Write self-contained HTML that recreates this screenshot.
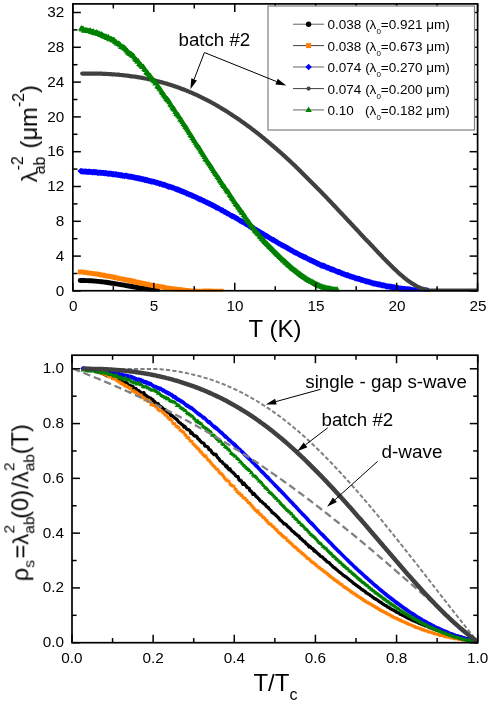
<!DOCTYPE html>
<html><head><meta charset="utf-8"><title>chart</title>
<style>html,body{margin:0;padding:0;background:#fff;}body{width:491px;height:705px;position:relative;overflow:hidden;font-family:"Liberation Sans",sans-serif;}</style>
</head><body>
<svg width="491" height="705" viewBox="0 0 491 705" style="position:absolute;left:0;top:0">
<defs><clipPath id="c1"><rect x="72.85" y="3.9" width="404.75" height="287.6"/></clipPath><clipPath id="c2"><rect x="72" y="355.2" width="405.8" height="288.2"/></clipPath></defs>
<g clip-path="url(#c1)" fill="none" stroke-linejoin="round" stroke-linecap="round">
<path d="M80.2 280.5 L81.7 280.5 L83.2 280.5 L84.8 280.5 L86.3 280.6 L87.8 280.6 L89.3 280.7 L90.8 280.8 L92.4 280.9 L93.9 281.0 L95.4 281.1 L96.9 281.3 L98.4 281.4 L100.0 281.6 L101.5 281.7 L103.0 281.9 L104.5 282.1 L106.0 282.3 L107.6 282.5 L109.1 282.7 L110.6 283.0 L112.1 283.2 L113.6 283.4 L115.2 283.7 L116.7 283.9 L118.2 284.2 L119.7 284.4 L121.2 284.7 L122.7 284.9 L124.3 285.2 L125.8 285.5 L127.3 285.7 L128.8 286.0 L130.3 286.3 L131.9 286.5 L133.4 286.8 L134.9 287.0 L136.4 287.3 L137.9 287.6 L139.5 287.8 L141.0 288.1 L142.5 288.3 L144.0 288.5 L145.5 288.8 L147.1 289.0 L148.6 289.2 L150.1 289.4 L151.6 289.6 L153.1 289.8 L154.7 290.0 L156.2 290.1 L157.7 290.3" stroke="#000000" stroke-width="4.9"/>
<path d="M77.9 269.6h4.6v4.6h-4.6zM78.9 269.8h4.6v4.6h-4.6zM79.9 269.7h4.6v4.6h-4.6zM80.9 270h4.6v4.6h-4.6zM81.9 270h4.6v4.6h-4.6zM82.9 270.1h4.6v4.6h-4.6zM83.9 270.5h4.6v4.6h-4.6zM84.9 270.4h4.6v4.6h-4.6zM85.9 270.5h4.6v4.6h-4.6zM86.9 270.8h4.6v4.6h-4.6zM87.9 271h4.6v4.6h-4.6zM88.9 271h4.6v4.6h-4.6zM89.9 271.2h4.6v4.6h-4.6zM90.9 271.2h4.6v4.6h-4.6zM91.9 271.4h4.6v4.6h-4.6zM92.9 271.6h4.6v4.6h-4.6zM93.9 271.6h4.6v4.6h-4.6zM94.9 271.8h4.6v4.6h-4.6zM95.9 271.9h4.6v4.6h-4.6zM96.9 272.2h4.6v4.6h-4.6zM97.9 272.4h4.6v4.6h-4.6zM98.9 272.6h4.6v4.6h-4.6zM99.9 272.8h4.6v4.6h-4.6zM100.9 272.8h4.6v4.6h-4.6zM101.9 273.2h4.6v4.6h-4.6zM102.9 273.4h4.6v4.6h-4.6zM103.9 273.6h4.6v4.6h-4.6zM104.9 273.6h4.6v4.6h-4.6zM105.9 273.9h4.6v4.6h-4.6zM106.9 273.9h4.6v4.6h-4.6zM107.9 274.3h4.6v4.6h-4.6zM108.9 274.2h4.6v4.6h-4.6zM109.9 274.5h4.6v4.6h-4.6zM110.9 275h4.6v4.6h-4.6zM111.9 274.8h4.6v4.6h-4.6zM112.9 275.4h4.6v4.6h-4.6zM113.9 275.6h4.6v4.6h-4.6zM114.9 275.7h4.6v4.6h-4.6zM115.9 276h4.6v4.6h-4.6zM116.9 276.2h4.6v4.6h-4.6zM117.9 276.5h4.6v4.6h-4.6zM118.9 276.5h4.6v4.6h-4.6zM119.9 276.7h4.6v4.6h-4.6zM120.9 276.9h4.6v4.6h-4.6zM121.9 277.1h4.6v4.6h-4.6zM122.9 277.4h4.6v4.6h-4.6zM123.9 277.5h4.6v4.6h-4.6zM124.9 278h4.6v4.6h-4.6zM125.9 277.8h4.6v4.6h-4.6zM126.9 278.1h4.6v4.6h-4.6zM127.9 278.3h4.6v4.6h-4.6zM128.9 278.4h4.6v4.6h-4.6zM129.9 279.1h4.6v4.6h-4.6zM130.9 278.8h4.6v4.6h-4.6zM131.9 279.3h4.6v4.6h-4.6zM132.9 279.5h4.6v4.6h-4.6zM133.9 279.9h4.6v4.6h-4.6zM134.9 279.7h4.6v4.6h-4.6zM135.9 280.3h4.6v4.6h-4.6zM136.9 280.3h4.6v4.6h-4.6zM137.9 280.6h4.6v4.6h-4.6zM138.9 280.7h4.6v4.6h-4.6zM139.9 281.1h4.6v4.6h-4.6zM140.9 281.1h4.6v4.6h-4.6zM141.9 281.4h4.6v4.6h-4.6zM142.9 281.7h4.6v4.6h-4.6zM143.9 282h4.6v4.6h-4.6zM144.9 281.7h4.6v4.6h-4.6zM145.9 282.4h4.6v4.6h-4.6zM146.9 282.5h4.6v4.6h-4.6zM147.9 282.6h4.6v4.6h-4.6zM149 282.9h4.6v4.6h-4.6zM150 283h4.6v4.6h-4.6zM151 283.4h4.6v4.6h-4.6zM152 283.4h4.6v4.6h-4.6zM153 283.6h4.6v4.6h-4.6zM154 283.7h4.6v4.6h-4.6zM155 283.9h4.6v4.6h-4.6zM156 284.1h4.6v4.6h-4.6zM157 284.2h4.6v4.6h-4.6zM158 284.7h4.6v4.6h-4.6zM159 284.4h4.6v4.6h-4.6zM160 284.4h4.6v4.6h-4.6zM161 285h4.6v4.6h-4.6zM162 285.2h4.6v4.6h-4.6zM163 285.4h4.6v4.6h-4.6zM164 285.5h4.6v4.6h-4.6zM165 285.7h4.6v4.6h-4.6zM166 285.9h4.6v4.6h-4.6zM167 286.1h4.6v4.6h-4.6zM168 286.1h4.6v4.6h-4.6zM169 286.2h4.6v4.6h-4.6zM170 286.7h4.6v4.6h-4.6zM171 286.6h4.6v4.6h-4.6zM172 286.6h4.6v4.6h-4.6zM173 287.1h4.6v4.6h-4.6zM174 287.1h4.6v4.6h-4.6zM175 287h4.6v4.6h-4.6zM176 287.1h4.6v4.6h-4.6zM177 287.4h4.6v4.6h-4.6zM178 287.3h4.6v4.6h-4.6zM179 287.4h4.6v4.6h-4.6zM180 287.5h4.6v4.6h-4.6zM181 287.7h4.6v4.6h-4.6zM182 288h4.6v4.6h-4.6zM183 287.9h4.6v4.6h-4.6zM184 287.9h4.6v4.6h-4.6zM185 288.2h4.6v4.6h-4.6zM186 288.2h4.6v4.6h-4.6zM187 288.4h4.6v4.6h-4.6zM188 288.5h4.6v4.6h-4.6zM189 288.4h4.6v4.6h-4.6zM190 288.5h4.6v4.6h-4.6zM191 288.5h4.6v4.6h-4.6zM192 288.4h4.6v4.6h-4.6zM193 288.7h4.6v4.6h-4.6zM194 288.8h4.6v4.6h-4.6zM195 288.7h4.6v4.6h-4.6zM196 288.7h4.6v4.6h-4.6zM197 288.7h4.6v4.6h-4.6zM198 288.7h4.6v4.6h-4.6zM199 288.7h4.6v4.6h-4.6zM200 288.7h4.6v4.6h-4.6zM201 288.7h4.6v4.6h-4.6zM202 288.7h4.6v4.6h-4.6zM203 288.6h4.6v4.6h-4.6zM204 288.8h4.6v4.6h-4.6zM205 288.8h4.6v4.6h-4.6zM206 288.6h4.6v4.6h-4.6zM207 288.5h4.6v4.6h-4.6zM208 288.8h4.6v4.6h-4.6zM209 288.9h4.6v4.6h-4.6zM210 288.7h4.6v4.6h-4.6zM211 288.7h4.6v4.6h-4.6zM212 288.7h4.6v4.6h-4.6zM213 288.9h4.6v4.6h-4.6zM214 288.7h4.6v4.6h-4.6zM215 288.9h4.6v4.6h-4.6zM216 288.7h4.6v4.6h-4.6zM217 288.9h4.6v4.6h-4.6zM218 288.8h4.6v4.6h-4.6zM219 288.8h4.6v4.6h-4.6z" fill="#ff8000"/>
<path d="M80.6 167.9l3.2 3.2l-3.2 3.2l-3.2 -3.2zM81.6 168.1l3.2 3.2l-3.2 3.2l-3.2 -3.2zM82.6 168.2l3.2 3.2l-3.2 3.2l-3.2 -3.2zM83.6 168.4l3.2 3.2l-3.2 3.2l-3.2 -3.2zM84.6 168.4l3.2 3.2l-3.2 3.2l-3.2 -3.2zM85.6 168.3l3.2 3.2l-3.2 3.2l-3.2 -3.2zM86.6 168.5l3.2 3.2l-3.2 3.2l-3.2 -3.2zM87.6 168.7l3.2 3.2l-3.2 3.2l-3.2 -3.2zM88.6 168.6l3.2 3.2l-3.2 3.2l-3.2 -3.2zM89.6 168.6l3.2 3.2l-3.2 3.2l-3.2 -3.2zM90.6 168.7l3.2 3.2l-3.2 3.2l-3.2 -3.2zM91.6 168.9l3.2 3.2l-3.2 3.2l-3.2 -3.2zM92.6 169l3.2 3.2l-3.2 3.2l-3.2 -3.2zM93.6 168.8l3.2 3.2l-3.2 3.2l-3.2 -3.2zM94.6 169.1l3.2 3.2l-3.2 3.2l-3.2 -3.2zM95.6 169.1l3.2 3.2l-3.2 3.2l-3.2 -3.2zM96.6 169.1l3.2 3.2l-3.2 3.2l-3.2 -3.2zM97.6 169.5l3.2 3.2l-3.2 3.2l-3.2 -3.2zM98.6 169.5l3.2 3.2l-3.2 3.2l-3.2 -3.2zM99.6 169.4l3.2 3.2l-3.2 3.2l-3.2 -3.2zM100.6 169.6l3.2 3.2l-3.2 3.2l-3.2 -3.2zM101.6 169.7l3.2 3.2l-3.2 3.2l-3.2 -3.2zM102.6 169.7l3.2 3.2l-3.2 3.2l-3.2 -3.2zM103.6 169.8l3.2 3.2l-3.2 3.2l-3.2 -3.2zM104.6 170.1l3.2 3.2l-3.2 3.2l-3.2 -3.2zM105.6 169.8l3.2 3.2l-3.2 3.2l-3.2 -3.2zM106.6 170.2l3.2 3.2l-3.2 3.2l-3.2 -3.2zM107.6 170.4l3.2 3.2l-3.2 3.2l-3.2 -3.2zM108.6 170.5l3.2 3.2l-3.2 3.2l-3.2 -3.2zM109.6 170.3l3.2 3.2l-3.2 3.2l-3.2 -3.2zM110.6 170.7l3.2 3.2l-3.2 3.2l-3.2 -3.2zM111.6 170.6l3.2 3.2l-3.2 3.2l-3.2 -3.2zM112.6 171l3.2 3.2l-3.2 3.2l-3.2 -3.2zM113.6 171.1l3.2 3.2l-3.2 3.2l-3.2 -3.2zM114.6 171.2l3.2 3.2l-3.2 3.2l-3.2 -3.2zM115.6 171.1l3.2 3.2l-3.2 3.2l-3.2 -3.2zM116.6 171.3l3.2 3.2l-3.2 3.2l-3.2 -3.2zM117.6 171.7l3.2 3.2l-3.2 3.2l-3.2 -3.2zM118.6 171.5l3.2 3.2l-3.2 3.2l-3.2 -3.2zM119.6 171.9l3.2 3.2l-3.2 3.2l-3.2 -3.2zM120.6 172l3.2 3.2l-3.2 3.2l-3.2 -3.2zM121.6 172.1l3.2 3.2l-3.2 3.2l-3.2 -3.2zM122.6 172.6l3.2 3.2l-3.2 3.2l-3.2 -3.2zM123.6 172.4l3.2 3.2l-3.2 3.2l-3.2 -3.2zM124.7 172.9l3.2 3.2l-3.2 3.2l-3.2 -3.2zM125.7 172.4l3.2 3.2l-3.2 3.2l-3.2 -3.2zM126.7 172.6l3.2 3.2l-3.2 3.2l-3.2 -3.2zM127.7 173.2l3.2 3.2l-3.2 3.2l-3.2 -3.2zM128.7 173.3l3.2 3.2l-3.2 3.2l-3.2 -3.2zM129.7 173.4l3.2 3.2l-3.2 3.2l-3.2 -3.2zM130.7 173.6l3.2 3.2l-3.2 3.2l-3.2 -3.2zM131.7 173.5l3.2 3.2l-3.2 3.2l-3.2 -3.2zM132.7 173.9l3.2 3.2l-3.2 3.2l-3.2 -3.2zM133.7 174l3.2 3.2l-3.2 3.2l-3.2 -3.2zM134.7 174.3l3.2 3.2l-3.2 3.2l-3.2 -3.2zM135.7 174.7l3.2 3.2l-3.2 3.2l-3.2 -3.2zM136.7 174.7l3.2 3.2l-3.2 3.2l-3.2 -3.2zM137.7 175l3.2 3.2l-3.2 3.2l-3.2 -3.2zM138.7 175l3.2 3.2l-3.2 3.2l-3.2 -3.2zM139.7 175.3l3.2 3.2l-3.2 3.2l-3.2 -3.2zM140.7 175.6l3.2 3.2l-3.2 3.2l-3.2 -3.2zM141.7 175.8l3.2 3.2l-3.2 3.2l-3.2 -3.2zM142.7 176.2l3.2 3.2l-3.2 3.2l-3.2 -3.2zM143.7 176.1l3.2 3.2l-3.2 3.2l-3.2 -3.2zM144.7 176.8l3.2 3.2l-3.2 3.2l-3.2 -3.2zM145.7 176.6l3.2 3.2l-3.2 3.2l-3.2 -3.2zM146.7 177.1l3.2 3.2l-3.2 3.2l-3.2 -3.2zM147.7 177.1l3.2 3.2l-3.2 3.2l-3.2 -3.2zM148.7 177.7l3.2 3.2l-3.2 3.2l-3.2 -3.2zM149.7 177.7l3.2 3.2l-3.2 3.2l-3.2 -3.2zM150.7 178l3.2 3.2l-3.2 3.2l-3.2 -3.2zM151.7 178.3l3.2 3.2l-3.2 3.2l-3.2 -3.2zM152.7 178.4l3.2 3.2l-3.2 3.2l-3.2 -3.2zM153.7 178.6l3.2 3.2l-3.2 3.2l-3.2 -3.2zM154.7 178.7l3.2 3.2l-3.2 3.2l-3.2 -3.2zM155.7 179.4l3.2 3.2l-3.2 3.2l-3.2 -3.2zM156.7 179.4l3.2 3.2l-3.2 3.2l-3.2 -3.2zM157.7 179.7l3.2 3.2l-3.2 3.2l-3.2 -3.2zM158.7 180.1l3.2 3.2l-3.2 3.2l-3.2 -3.2zM159.7 180.7l3.2 3.2l-3.2 3.2l-3.2 -3.2zM160.7 180.4l3.2 3.2l-3.2 3.2l-3.2 -3.2zM161.7 181l3.2 3.2l-3.2 3.2l-3.2 -3.2zM162.7 181.2l3.2 3.2l-3.2 3.2l-3.2 -3.2zM163.7 181.7l3.2 3.2l-3.2 3.2l-3.2 -3.2zM164.7 181.6l3.2 3.2l-3.2 3.2l-3.2 -3.2zM165.7 182.2l3.2 3.2l-3.2 3.2l-3.2 -3.2zM166.7 182.7l3.2 3.2l-3.2 3.2l-3.2 -3.2zM167.7 183.1l3.2 3.2l-3.2 3.2l-3.2 -3.2zM168.7 183.5l3.2 3.2l-3.2 3.2l-3.2 -3.2zM169.7 183.4l3.2 3.2l-3.2 3.2l-3.2 -3.2zM170.7 183.9l3.2 3.2l-3.2 3.2l-3.2 -3.2zM171.7 184.2l3.2 3.2l-3.2 3.2l-3.2 -3.2zM172.7 184.4l3.2 3.2l-3.2 3.2l-3.2 -3.2zM173.7 184.7l3.2 3.2l-3.2 3.2l-3.2 -3.2zM174.7 185.4l3.2 3.2l-3.2 3.2l-3.2 -3.2zM175.7 185.7l3.2 3.2l-3.2 3.2l-3.2 -3.2zM176.7 186l3.2 3.2l-3.2 3.2l-3.2 -3.2zM177.7 186.6l3.2 3.2l-3.2 3.2l-3.2 -3.2zM178.7 186.6l3.2 3.2l-3.2 3.2l-3.2 -3.2zM179.7 187.3l3.2 3.2l-3.2 3.2l-3.2 -3.2zM180.7 187.6l3.2 3.2l-3.2 3.2l-3.2 -3.2zM181.7 188l3.2 3.2l-3.2 3.2l-3.2 -3.2zM182.7 188.4l3.2 3.2l-3.2 3.2l-3.2 -3.2zM183.7 188.8l3.2 3.2l-3.2 3.2l-3.2 -3.2zM184.7 189.2l3.2 3.2l-3.2 3.2l-3.2 -3.2zM185.7 189.6l3.2 3.2l-3.2 3.2l-3.2 -3.2zM186.7 190.3l3.2 3.2l-3.2 3.2l-3.2 -3.2zM187.7 190.4l3.2 3.2l-3.2 3.2l-3.2 -3.2zM188.7 191l3.2 3.2l-3.2 3.2l-3.2 -3.2zM189.7 191.4l3.2 3.2l-3.2 3.2l-3.2 -3.2zM190.7 191.7l3.2 3.2l-3.2 3.2l-3.2 -3.2zM191.7 192.3l3.2 3.2l-3.2 3.2l-3.2 -3.2zM192.7 192.5l3.2 3.2l-3.2 3.2l-3.2 -3.2zM193.7 193.2l3.2 3.2l-3.2 3.2l-3.2 -3.2zM194.7 193.4l3.2 3.2l-3.2 3.2l-3.2 -3.2zM195.7 193.9l3.2 3.2l-3.2 3.2l-3.2 -3.2zM196.7 194.5l3.2 3.2l-3.2 3.2l-3.2 -3.2zM197.7 195l3.2 3.2l-3.2 3.2l-3.2 -3.2zM198.7 195.5l3.2 3.2l-3.2 3.2l-3.2 -3.2zM199.7 196l3.2 3.2l-3.2 3.2l-3.2 -3.2zM200.7 196.3l3.2 3.2l-3.2 3.2l-3.2 -3.2zM201.7 196.6l3.2 3.2l-3.2 3.2l-3.2 -3.2zM202.7 197.4l3.2 3.2l-3.2 3.2l-3.2 -3.2zM203.7 197.8l3.2 3.2l-3.2 3.2l-3.2 -3.2zM204.7 198.1l3.2 3.2l-3.2 3.2l-3.2 -3.2zM205.7 198.9l3.2 3.2l-3.2 3.2l-3.2 -3.2zM206.7 199.3l3.2 3.2l-3.2 3.2l-3.2 -3.2zM207.7 199.6l3.2 3.2l-3.2 3.2l-3.2 -3.2zM208.7 200.3l3.2 3.2l-3.2 3.2l-3.2 -3.2zM209.7 200.5l3.2 3.2l-3.2 3.2l-3.2 -3.2zM210.7 201.1l3.2 3.2l-3.2 3.2l-3.2 -3.2zM211.8 201.8l3.2 3.2l-3.2 3.2l-3.2 -3.2zM212.8 202.1l3.2 3.2l-3.2 3.2l-3.2 -3.2zM213.8 202.8l3.2 3.2l-3.2 3.2l-3.2 -3.2zM214.8 203.1l3.2 3.2l-3.2 3.2l-3.2 -3.2zM215.8 204l3.2 3.2l-3.2 3.2l-3.2 -3.2zM216.8 204.3l3.2 3.2l-3.2 3.2l-3.2 -3.2zM217.8 204.9l3.2 3.2l-3.2 3.2l-3.2 -3.2zM218.8 205.2l3.2 3.2l-3.2 3.2l-3.2 -3.2zM219.8 205.9l3.2 3.2l-3.2 3.2l-3.2 -3.2zM220.8 206.7l3.2 3.2l-3.2 3.2l-3.2 -3.2zM221.8 207.1l3.2 3.2l-3.2 3.2l-3.2 -3.2zM222.8 207.3l3.2 3.2l-3.2 3.2l-3.2 -3.2zM223.8 208.3l3.2 3.2l-3.2 3.2l-3.2 -3.2zM224.8 208.8l3.2 3.2l-3.2 3.2l-3.2 -3.2zM225.8 209.2l3.2 3.2l-3.2 3.2l-3.2 -3.2zM226.8 210l3.2 3.2l-3.2 3.2l-3.2 -3.2zM227.8 210.2l3.2 3.2l-3.2 3.2l-3.2 -3.2zM228.8 210.9l3.2 3.2l-3.2 3.2l-3.2 -3.2zM229.8 211.6l3.2 3.2l-3.2 3.2l-3.2 -3.2zM230.8 212.2l3.2 3.2l-3.2 3.2l-3.2 -3.2zM231.8 212.8l3.2 3.2l-3.2 3.2l-3.2 -3.2zM232.8 213l3.2 3.2l-3.2 3.2l-3.2 -3.2zM233.8 213.4l3.2 3.2l-3.2 3.2l-3.2 -3.2zM234.8 214.3l3.2 3.2l-3.2 3.2l-3.2 -3.2zM235.8 214.6l3.2 3.2l-3.2 3.2l-3.2 -3.2zM236.8 215.4l3.2 3.2l-3.2 3.2l-3.2 -3.2zM237.8 215.8l3.2 3.2l-3.2 3.2l-3.2 -3.2zM238.8 216.7l3.2 3.2l-3.2 3.2l-3.2 -3.2zM239.8 217.3l3.2 3.2l-3.2 3.2l-3.2 -3.2zM240.8 217.8l3.2 3.2l-3.2 3.2l-3.2 -3.2zM241.8 218.3l3.2 3.2l-3.2 3.2l-3.2 -3.2zM242.8 218.9l3.2 3.2l-3.2 3.2l-3.2 -3.2zM243.8 219.4l3.2 3.2l-3.2 3.2l-3.2 -3.2zM244.8 220.1l3.2 3.2l-3.2 3.2l-3.2 -3.2zM245.8 220.7l3.2 3.2l-3.2 3.2l-3.2 -3.2zM246.8 221.3l3.2 3.2l-3.2 3.2l-3.2 -3.2zM247.8 221.7l3.2 3.2l-3.2 3.2l-3.2 -3.2zM248.8 222.7l3.2 3.2l-3.2 3.2l-3.2 -3.2zM249.8 223l3.2 3.2l-3.2 3.2l-3.2 -3.2zM250.8 223.8l3.2 3.2l-3.2 3.2l-3.2 -3.2zM251.8 224.3l3.2 3.2l-3.2 3.2l-3.2 -3.2zM252.8 224.6l3.2 3.2l-3.2 3.2l-3.2 -3.2zM253.8 225.1l3.2 3.2l-3.2 3.2l-3.2 -3.2zM254.8 226.1l3.2 3.2l-3.2 3.2l-3.2 -3.2zM255.8 226.5l3.2 3.2l-3.2 3.2l-3.2 -3.2zM256.8 227.1l3.2 3.2l-3.2 3.2l-3.2 -3.2zM257.8 227.7l3.2 3.2l-3.2 3.2l-3.2 -3.2zM258.8 228.3l3.2 3.2l-3.2 3.2l-3.2 -3.2zM259.8 228.7l3.2 3.2l-3.2 3.2l-3.2 -3.2zM260.8 229.5l3.2 3.2l-3.2 3.2l-3.2 -3.2zM261.8 230l3.2 3.2l-3.2 3.2l-3.2 -3.2zM262.8 230.7l3.2 3.2l-3.2 3.2l-3.2 -3.2zM263.8 230.9l3.2 3.2l-3.2 3.2l-3.2 -3.2zM264.8 232l3.2 3.2l-3.2 3.2l-3.2 -3.2zM265.8 232.5l3.2 3.2l-3.2 3.2l-3.2 -3.2zM266.8 232.8l3.2 3.2l-3.2 3.2l-3.2 -3.2zM267.8 233.5l3.2 3.2l-3.2 3.2l-3.2 -3.2zM268.8 234.2l3.2 3.2l-3.2 3.2l-3.2 -3.2zM269.8 234.9l3.2 3.2l-3.2 3.2l-3.2 -3.2zM270.8 235.4l3.2 3.2l-3.2 3.2l-3.2 -3.2zM271.8 236.2l3.2 3.2l-3.2 3.2l-3.2 -3.2zM272.8 236.6l3.2 3.2l-3.2 3.2l-3.2 -3.2zM273.8 237l3.2 3.2l-3.2 3.2l-3.2 -3.2zM274.8 237.6l3.2 3.2l-3.2 3.2l-3.2 -3.2zM275.8 238.4l3.2 3.2l-3.2 3.2l-3.2 -3.2zM276.8 238.8l3.2 3.2l-3.2 3.2l-3.2 -3.2zM277.8 239.6l3.2 3.2l-3.2 3.2l-3.2 -3.2zM278.8 240.2l3.2 3.2l-3.2 3.2l-3.2 -3.2zM279.8 240.7l3.2 3.2l-3.2 3.2l-3.2 -3.2zM280.8 241.4l3.2 3.2l-3.2 3.2l-3.2 -3.2zM281.8 241.8l3.2 3.2l-3.2 3.2l-3.2 -3.2zM282.8 242.4l3.2 3.2l-3.2 3.2l-3.2 -3.2zM283.8 242.8l3.2 3.2l-3.2 3.2l-3.2 -3.2zM284.8 243.4l3.2 3.2l-3.2 3.2l-3.2 -3.2zM285.8 243.8l3.2 3.2l-3.2 3.2l-3.2 -3.2zM286.8 244.5l3.2 3.2l-3.2 3.2l-3.2 -3.2zM287.8 245l3.2 3.2l-3.2 3.2l-3.2 -3.2zM288.8 245.5l3.2 3.2l-3.2 3.2l-3.2 -3.2zM289.8 246.3l3.2 3.2l-3.2 3.2l-3.2 -3.2zM290.8 246.9l3.2 3.2l-3.2 3.2l-3.2 -3.2zM291.8 247.3l3.2 3.2l-3.2 3.2l-3.2 -3.2zM292.8 248.1l3.2 3.2l-3.2 3.2l-3.2 -3.2zM293.8 248.6l3.2 3.2l-3.2 3.2l-3.2 -3.2zM294.8 249.2l3.2 3.2l-3.2 3.2l-3.2 -3.2zM295.8 249.5l3.2 3.2l-3.2 3.2l-3.2 -3.2zM296.8 249.9l3.2 3.2l-3.2 3.2l-3.2 -3.2zM297.9 250.7l3.2 3.2l-3.2 3.2l-3.2 -3.2zM298.9 251.2l3.2 3.2l-3.2 3.2l-3.2 -3.2zM299.9 251.8l3.2 3.2l-3.2 3.2l-3.2 -3.2zM300.9 252.2l3.2 3.2l-3.2 3.2l-3.2 -3.2zM301.9 252.9l3.2 3.2l-3.2 3.2l-3.2 -3.2zM302.9 253.1l3.2 3.2l-3.2 3.2l-3.2 -3.2zM303.9 253.8l3.2 3.2l-3.2 3.2l-3.2 -3.2zM304.9 254.1l3.2 3.2l-3.2 3.2l-3.2 -3.2zM305.9 254.3l3.2 3.2l-3.2 3.2l-3.2 -3.2zM306.9 255.1l3.2 3.2l-3.2 3.2l-3.2 -3.2zM307.9 255.9l3.2 3.2l-3.2 3.2l-3.2 -3.2zM308.9 255.9l3.2 3.2l-3.2 3.2l-3.2 -3.2zM309.9 256.8l3.2 3.2l-3.2 3.2l-3.2 -3.2zM310.9 257l3.2 3.2l-3.2 3.2l-3.2 -3.2zM311.9 257.5l3.2 3.2l-3.2 3.2l-3.2 -3.2zM312.9 258.1l3.2 3.2l-3.2 3.2l-3.2 -3.2zM313.9 258.6l3.2 3.2l-3.2 3.2l-3.2 -3.2zM314.9 258.8l3.2 3.2l-3.2 3.2l-3.2 -3.2zM315.9 259.5l3.2 3.2l-3.2 3.2l-3.2 -3.2zM316.9 260l3.2 3.2l-3.2 3.2l-3.2 -3.2zM317.9 260.5l3.2 3.2l-3.2 3.2l-3.2 -3.2zM318.9 260.7l3.2 3.2l-3.2 3.2l-3.2 -3.2zM319.9 261.5l3.2 3.2l-3.2 3.2l-3.2 -3.2zM320.9 262l3.2 3.2l-3.2 3.2l-3.2 -3.2zM321.9 262.5l3.2 3.2l-3.2 3.2l-3.2 -3.2zM322.9 262.3l3.2 3.2l-3.2 3.2l-3.2 -3.2zM323.9 263l3.2 3.2l-3.2 3.2l-3.2 -3.2zM324.9 263.1l3.2 3.2l-3.2 3.2l-3.2 -3.2zM325.9 263.9l3.2 3.2l-3.2 3.2l-3.2 -3.2zM326.9 264.3l3.2 3.2l-3.2 3.2l-3.2 -3.2zM327.9 264.5l3.2 3.2l-3.2 3.2l-3.2 -3.2zM328.9 264.8l3.2 3.2l-3.2 3.2l-3.2 -3.2zM329.9 265.5l3.2 3.2l-3.2 3.2l-3.2 -3.2zM330.9 266l3.2 3.2l-3.2 3.2l-3.2 -3.2zM331.9 266.1l3.2 3.2l-3.2 3.2l-3.2 -3.2zM332.9 266.6l3.2 3.2l-3.2 3.2l-3.2 -3.2zM333.9 266.7l3.2 3.2l-3.2 3.2l-3.2 -3.2zM334.9 267.3l3.2 3.2l-3.2 3.2l-3.2 -3.2zM335.9 267.9l3.2 3.2l-3.2 3.2l-3.2 -3.2zM336.9 268.2l3.2 3.2l-3.2 3.2l-3.2 -3.2zM337.9 268.8l3.2 3.2l-3.2 3.2l-3.2 -3.2zM338.9 268.8l3.2 3.2l-3.2 3.2l-3.2 -3.2zM339.9 269l3.2 3.2l-3.2 3.2l-3.2 -3.2zM340.9 269.8l3.2 3.2l-3.2 3.2l-3.2 -3.2zM341.9 270l3.2 3.2l-3.2 3.2l-3.2 -3.2zM342.9 270.5l3.2 3.2l-3.2 3.2l-3.2 -3.2zM343.9 270.9l3.2 3.2l-3.2 3.2l-3.2 -3.2zM344.9 271.3l3.2 3.2l-3.2 3.2l-3.2 -3.2zM345.9 271.7l3.2 3.2l-3.2 3.2l-3.2 -3.2zM346.9 272.1l3.2 3.2l-3.2 3.2l-3.2 -3.2zM347.9 272l3.2 3.2l-3.2 3.2l-3.2 -3.2zM348.9 272.6l3.2 3.2l-3.2 3.2l-3.2 -3.2zM349.9 273.2l3.2 3.2l-3.2 3.2l-3.2 -3.2zM350.9 273.2l3.2 3.2l-3.2 3.2l-3.2 -3.2zM351.9 273.7l3.2 3.2l-3.2 3.2l-3.2 -3.2zM352.9 273.9l3.2 3.2l-3.2 3.2l-3.2 -3.2zM353.9 274.2l3.2 3.2l-3.2 3.2l-3.2 -3.2zM354.9 274.8l3.2 3.2l-3.2 3.2l-3.2 -3.2zM355.9 275l3.2 3.2l-3.2 3.2l-3.2 -3.2zM356.9 275.2l3.2 3.2l-3.2 3.2l-3.2 -3.2zM357.9 275.7l3.2 3.2l-3.2 3.2l-3.2 -3.2zM358.9 275.6l3.2 3.2l-3.2 3.2l-3.2 -3.2zM359.9 276l3.2 3.2l-3.2 3.2l-3.2 -3.2zM360.9 276.6l3.2 3.2l-3.2 3.2l-3.2 -3.2zM361.9 276.8l3.2 3.2l-3.2 3.2l-3.2 -3.2zM362.9 276.9l3.2 3.2l-3.2 3.2l-3.2 -3.2zM363.9 277.4l3.2 3.2l-3.2 3.2l-3.2 -3.2zM364.9 277.7l3.2 3.2l-3.2 3.2l-3.2 -3.2zM365.9 278.1l3.2 3.2l-3.2 3.2l-3.2 -3.2zM366.9 278.3l3.2 3.2l-3.2 3.2l-3.2 -3.2zM367.9 278.4l3.2 3.2l-3.2 3.2l-3.2 -3.2zM368.9 278.7l3.2 3.2l-3.2 3.2l-3.2 -3.2zM369.9 279l3.2 3.2l-3.2 3.2l-3.2 -3.2zM370.9 279.2l3.2 3.2l-3.2 3.2l-3.2 -3.2zM371.9 279.8l3.2 3.2l-3.2 3.2l-3.2 -3.2zM372.9 280l3.2 3.2l-3.2 3.2l-3.2 -3.2zM373.9 280.3l3.2 3.2l-3.2 3.2l-3.2 -3.2zM374.9 280.4l3.2 3.2l-3.2 3.2l-3.2 -3.2zM375.9 280.5l3.2 3.2l-3.2 3.2l-3.2 -3.2zM376.9 280.9l3.2 3.2l-3.2 3.2l-3.2 -3.2zM377.9 281l3.2 3.2l-3.2 3.2l-3.2 -3.2zM378.9 281.3l3.2 3.2l-3.2 3.2l-3.2 -3.2zM379.9 281.3l3.2 3.2l-3.2 3.2l-3.2 -3.2zM380.9 281.7l3.2 3.2l-3.2 3.2l-3.2 -3.2zM381.9 282.2l3.2 3.2l-3.2 3.2l-3.2 -3.2zM382.9 282l3.2 3.2l-3.2 3.2l-3.2 -3.2zM383.9 282.2l3.2 3.2l-3.2 3.2l-3.2 -3.2zM385 282.6l3.2 3.2l-3.2 3.2l-3.2 -3.2zM386 283.1l3.2 3.2l-3.2 3.2l-3.2 -3.2zM387 283.2l3.2 3.2l-3.2 3.2l-3.2 -3.2zM388 283.2l3.2 3.2l-3.2 3.2l-3.2 -3.2zM389 283.3l3.2 3.2l-3.2 3.2l-3.2 -3.2zM390 283.6l3.2 3.2l-3.2 3.2l-3.2 -3.2zM391 283.6l3.2 3.2l-3.2 3.2l-3.2 -3.2zM392 284l3.2 3.2l-3.2 3.2l-3.2 -3.2zM393 284.1l3.2 3.2l-3.2 3.2l-3.2 -3.2zM394 284.1l3.2 3.2l-3.2 3.2l-3.2 -3.2zM395 284.4l3.2 3.2l-3.2 3.2l-3.2 -3.2zM396 284.6l3.2 3.2l-3.2 3.2l-3.2 -3.2zM397 284.7l3.2 3.2l-3.2 3.2l-3.2 -3.2zM398 284.8l3.2 3.2l-3.2 3.2l-3.2 -3.2zM399 285.2l3.2 3.2l-3.2 3.2l-3.2 -3.2zM400 285.5l3.2 3.2l-3.2 3.2l-3.2 -3.2zM401 285.3l3.2 3.2l-3.2 3.2l-3.2 -3.2zM402 285.5l3.2 3.2l-3.2 3.2l-3.2 -3.2zM403 285.7l3.2 3.2l-3.2 3.2l-3.2 -3.2zM404 285.8l3.2 3.2l-3.2 3.2l-3.2 -3.2zM405 285.8l3.2 3.2l-3.2 3.2l-3.2 -3.2zM406 286.2l3.2 3.2l-3.2 3.2l-3.2 -3.2zM407 286l3.2 3.2l-3.2 3.2l-3.2 -3.2zM408 286.1l3.2 3.2l-3.2 3.2l-3.2 -3.2zM409 286.2l3.2 3.2l-3.2 3.2l-3.2 -3.2zM410 286.3l3.2 3.2l-3.2 3.2l-3.2 -3.2zM411 286.5l3.2 3.2l-3.2 3.2l-3.2 -3.2zM412 286.7l3.2 3.2l-3.2 3.2l-3.2 -3.2zM413 286.9l3.2 3.2l-3.2 3.2l-3.2 -3.2zM414 286.9l3.2 3.2l-3.2 3.2l-3.2 -3.2zM415 286.9l3.2 3.2l-3.2 3.2l-3.2 -3.2zM416 286.7l3.2 3.2l-3.2 3.2l-3.2 -3.2zM417 287l3.2 3.2l-3.2 3.2l-3.2 -3.2zM418 286.9l3.2 3.2l-3.2 3.2l-3.2 -3.2zM419 287.1l3.2 3.2l-3.2 3.2l-3.2 -3.2zM420 287.3l3.2 3.2l-3.2 3.2l-3.2 -3.2zM421 287.2l3.2 3.2l-3.2 3.2l-3.2 -3.2zM422 287.2l3.2 3.2l-3.2 3.2l-3.2 -3.2zM423 287.2l3.2 3.2l-3.2 3.2l-3.2 -3.2zM424 287.3l3.2 3.2l-3.2 3.2l-3.2 -3.2zM425 287.3l3.2 3.2l-3.2 3.2l-3.2 -3.2zM426 287.2l3.2 3.2l-3.2 3.2l-3.2 -3.2zM427 287.3l3.2 3.2l-3.2 3.2l-3.2 -3.2zM428 287.5l3.2 3.2l-3.2 3.2l-3.2 -3.2z" fill="#0000ff"/>
<path d="M82.2 73.6 L83.7 73.6 L85.2 73.6 L86.7 73.6 L88.2 73.6 L89.7 73.6 L91.2 73.6 L92.7 73.6 L94.2 73.6 L95.7 73.6 L97.2 73.6 L98.7 73.6 L100.2 73.7 L101.7 73.7 L103.2 73.8 L104.8 73.9 L106.3 73.9 L107.8 74.0 L109.3 74.1 L110.8 74.2 L112.3 74.3 L113.8 74.4 L115.3 74.5 L116.8 74.6 L118.3 74.7 L119.8 74.9 L121.3 75.0 L122.8 75.2 L124.3 75.3 L125.8 75.5 L127.3 75.7 L128.8 75.9 L130.3 76.1 L131.8 76.3 L133.3 76.5 L134.8 76.7 L136.3 76.9 L137.8 77.2 L139.3 77.4 L140.8 77.7 L142.3 77.9 L143.8 78.2 L145.3 78.5 L146.8 78.8 L148.4 79.1 L149.9 79.4 L151.4 79.8 L152.9 80.1 L154.4 80.4 L155.9 80.8 L157.4 81.2 L158.9 81.6 L160.4 82.0 L161.9 82.4 L163.4 82.8 L164.9 83.2 L166.4 83.6 L167.9 84.1 L169.4 84.5 L170.9 85.0 L172.4 85.5 L173.9 86.0 L175.4 86.5 L176.9 87.0 L178.4 87.6 L179.9 88.1 L181.4 88.7 L182.9 89.2 L184.4 89.8 L185.9 90.4 L187.4 91.0 L188.9 91.6 L190.4 92.3 L192.0 92.9 L193.5 93.6 L195.0 94.3 L196.5 94.9 L198.0 95.6 L199.5 96.4 L201.0 97.1 L202.5 97.8 L204.0 98.6 L205.5 99.3 L207.0 100.1 L208.5 100.9 L210.0 101.7 L211.5 102.5 L213.0 103.3 L214.5 104.2 L216.0 105.0 L217.5 105.9 L219.0 106.8 L220.5 107.7 L222.0 108.6 L223.5 109.5 L225.0 110.4 L226.5 111.3 L228.0 112.3 L229.5 113.2 L231.0 114.2 L232.5 115.2 L234.0 116.2 L235.6 117.2 L237.1 118.2 L238.6 119.3 L240.1 120.3 L241.6 121.4 L243.1 122.4 L244.6 123.5 L246.1 124.6 L247.6 125.7 L249.1 126.8 L250.6 127.9 L252.1 129.1 L253.6 130.2 L255.1 131.4 L256.6 132.5 L258.1 133.7 L259.6 134.9 L261.1 136.1 L262.6 137.3 L264.1 138.5 L265.6 139.8 L267.1 141.0 L268.6 142.3 L270.1 143.5 L271.6 144.8 L273.1 146.1 L274.6 147.4 L276.1 148.7 L277.6 150.0 L279.2 151.3 L280.7 152.7 L282.2 154.0 L283.7 155.4 L285.2 156.7 L286.7 158.1 L288.2 159.5 L289.7 160.9 L291.2 162.3 L292.7 163.7 L294.2 165.1 L295.7 166.6 L297.2 168.0 L298.7 169.5 L300.2 170.9 L301.7 172.4 L303.2 173.9 L304.7 175.4 L306.2 176.9 L307.7 178.4 L309.2 179.9 L310.7 181.4 L312.2 182.9 L313.7 184.4 L315.2 185.9 L316.7 187.5 L318.2 189.0 L319.7 190.6 L321.2 192.1 L322.8 193.7 L324.3 195.3 L325.8 196.8 L327.3 198.4 L328.8 200.0 L330.3 201.5 L331.8 203.1 L333.3 204.7 L334.8 206.3 L336.3 207.9 L337.8 209.5 L339.3 211.1 L340.8 212.7 L342.3 214.3 L343.8 215.9 L345.3 217.5 L346.8 219.1 L348.3 220.7 L349.8 222.3 L351.3 223.9 L352.8 225.5 L354.3 227.1 L355.8 228.7 L357.3 230.3 L358.8 231.9 L360.3 233.6 L361.8 235.2 L363.3 236.8 L364.8 238.4 L366.4 240.0 L367.9 241.6 L369.4 243.1 L370.9 244.7 L372.4 246.3 L373.9 247.9 L375.4 249.5 L376.9 251.1 L378.4 252.7 L379.9 254.2 L381.4 255.8 L382.9 257.4 L384.4 258.9 L385.9 260.5 L387.4 262.0 L388.9 263.5 L390.4 265.0 L391.9 266.5 L393.4 268.0 L394.9 269.4 L396.4 270.8 L397.9 272.2 L399.4 273.6 L400.9 274.9 L402.4 276.2 L403.9 277.5 L405.4 278.7 L406.9 279.8 L408.4 281.0 L410.0 282.0 L411.5 283.1 L413.0 284.0 L414.5 284.9 L416.0 285.8 L417.5 286.6 L419.0 287.3 L420.5 288.0 L422.0 288.6 L423.5 289.1 L425.0 289.6 L426.5 290.0 L428.0 290.3 L429.5 290.5 L431.0 290.6 L477.6 290.5" stroke="#404040" stroke-width="4.2"/>
<path d="M81.3 25l3.2 5.6h-6.5zM82.3 25.8l3.2 5.6h-6.5zM83.3 25.7l3.2 5.6h-6.5zM84.3 27.1l3.2 5.6h-6.5zM85.3 26.9l3.2 5.6h-6.5zM86.3 27.1l3.2 5.6h-6.5zM87.3 27.3l3.2 5.6h-6.5zM88.3 27.5l3.2 5.6h-6.5zM89.3 27.7l3.2 5.6h-6.5zM90.3 27.2l3.2 5.6h-6.5zM91.3 28.3l3.2 5.6h-6.5zM92.3 28.7l3.2 5.6h-6.5zM93.3 28.1l3.2 5.6h-6.5zM94.3 29.4l3.2 5.6h-6.5zM95.3 29.7l3.2 5.6h-6.5zM96.4 29l3.2 5.6h-6.5zM97.4 29.8l3.2 5.6h-6.5zM98.4 30.3l3.2 5.6h-6.5zM99.4 30.5l3.2 5.6h-6.5zM100.4 31.3l3.2 5.6h-6.5zM101.4 31l3.2 5.6h-6.5zM102.4 31.8l3.2 5.6h-6.5zM103.4 32.4l3.2 5.6h-6.5zM104.4 33.1l3.2 5.6h-6.5zM105.4 33.2l3.2 5.6h-6.5zM106.4 33.6l3.2 5.6h-6.5zM107.4 34.5l3.2 5.6h-6.5zM108.4 33.8l3.2 5.6h-6.5zM109.4 35.6l3.2 5.6h-6.5zM110.4 35.6l3.2 5.6h-6.5zM111.4 35.7l3.2 5.6h-6.5zM112.4 36.6l3.2 5.6h-6.5zM113.4 36.6l3.2 5.6h-6.5zM114.4 37.1l3.2 5.6h-6.5zM115.4 38.5l3.2 5.6h-6.5zM116.4 38.9l3.2 5.6h-6.5zM117.4 40.2l3.2 5.6h-6.5zM118.4 40.2l3.2 5.6h-6.5zM119.4 40.7l3.2 5.6h-6.5zM120.4 41.6l3.2 5.6h-6.5zM121.4 43.5l3.2 5.6h-6.5zM122.4 43.5l3.2 5.6h-6.5zM123.4 44l3.2 5.6h-6.5zM124.5 44.6l3.2 5.6h-6.5zM125.5 45.4l3.2 5.6h-6.5zM126.5 46.7l3.2 5.6h-6.5zM127.5 47.8l3.2 5.6h-6.5zM128.5 49.1l3.2 5.6h-6.5zM129.5 50l3.2 5.6h-6.5zM130.5 50.5l3.2 5.6h-6.5zM131.5 51.1l3.2 5.6h-6.5zM132.5 52l3.2 5.6h-6.5zM133.5 52.4l3.2 5.6h-6.5zM134.5 54l3.2 5.6h-6.5zM135.5 55.7l3.2 5.6h-6.5zM136.5 56.4l3.2 5.6h-6.5zM137.5 57.8l3.2 5.6h-6.5zM138.5 58.1l3.2 5.6h-6.5zM139.5 60.3l3.2 5.6h-6.5zM140.5 61.1l3.2 5.6h-6.5zM141.5 62.2l3.2 5.6h-6.5zM142.5 63.5l3.2 5.6h-6.5zM143.5 63.5l3.2 5.6h-6.5zM144.5 65.5l3.2 5.6h-6.5zM145.5 66.5l3.2 5.6h-6.5zM146.5 68.9l3.2 5.6h-6.5zM147.5 69.3l3.2 5.6h-6.5zM148.5 70.4l3.2 5.6h-6.5zM149.5 72.2l3.2 5.6h-6.5zM150.5 72.7l3.2 5.6h-6.5zM151.5 75l3.2 5.6h-6.5zM152.6 75.4l3.2 5.6h-6.5zM153.6 77l3.2 5.6h-6.5zM154.6 77.9l3.2 5.6h-6.5zM155.6 80l3.2 5.6h-6.5zM156.6 80l3.2 5.6h-6.5zM157.6 82.6l3.2 5.6h-6.5zM158.6 83.3l3.2 5.6h-6.5zM159.6 85l3.2 5.6h-6.5zM160.6 85.9l3.2 5.6h-6.5zM161.6 87.9l3.2 5.6h-6.5zM162.6 89.3l3.2 5.6h-6.5zM163.6 90.8l3.2 5.6h-6.5zM164.6 92.1l3.2 5.6h-6.5zM165.6 93.7l3.2 5.6h-6.5zM166.6 95.3l3.2 5.6h-6.5zM167.6 96.1l3.2 5.6h-6.5zM168.6 97.2l3.2 5.6h-6.5zM169.6 98.6l3.2 5.6h-6.5zM170.6 100.9l3.2 5.6h-6.5zM171.6 101.9l3.2 5.6h-6.5zM172.6 104l3.2 5.6h-6.5zM173.6 105.1l3.2 5.6h-6.5zM174.6 106.1l3.2 5.6h-6.5zM175.6 108.4l3.2 5.6h-6.5zM176.6 110.4l3.2 5.6h-6.5zM177.6 110.9l3.2 5.6h-6.5zM178.6 112.1l3.2 5.6h-6.5zM179.6 113.7l3.2 5.6h-6.5zM180.6 116l3.2 5.6h-6.5zM181.7 116.8l3.2 5.6h-6.5zM182.7 118.4l3.2 5.6h-6.5zM183.7 120.5l3.2 5.6h-6.5zM184.7 121.7l3.2 5.6h-6.5zM185.7 123.3l3.2 5.6h-6.5zM186.7 124.6l3.2 5.6h-6.5zM187.7 126.1l3.2 5.6h-6.5zM188.7 128l3.2 5.6h-6.5zM189.7 129.5l3.2 5.6h-6.5zM190.7 131.3l3.2 5.6h-6.5zM191.7 132.4l3.2 5.6h-6.5zM192.7 134.3l3.2 5.6h-6.5zM193.7 136l3.2 5.6h-6.5zM194.7 137.4l3.2 5.6h-6.5zM195.7 139.2l3.2 5.6h-6.5zM196.7 141l3.2 5.6h-6.5zM197.7 142.2l3.2 5.6h-6.5zM198.7 143.7l3.2 5.6h-6.5zM199.7 144.8l3.2 5.6h-6.5zM200.7 146.9l3.2 5.6h-6.5zM201.7 148.4l3.2 5.6h-6.5zM202.7 149.9l3.2 5.6h-6.5zM203.7 151.4l3.2 5.6h-6.5zM204.7 153.4l3.2 5.6h-6.5zM205.7 155.6l3.2 5.6h-6.5zM206.7 156.5l3.2 5.6h-6.5zM207.7 158l3.2 5.6h-6.5zM208.7 159.7l3.2 5.6h-6.5zM209.8 160.9l3.2 5.6h-6.5zM210.8 162.7l3.2 5.6h-6.5zM211.8 164.1l3.2 5.6h-6.5zM212.8 165.6l3.2 5.6h-6.5zM213.8 167.4l3.2 5.6h-6.5zM214.8 169l3.2 5.6h-6.5zM215.8 170.4l3.2 5.6h-6.5zM216.8 171.7l3.2 5.6h-6.5zM217.8 173.5l3.2 5.6h-6.5zM218.8 174.6l3.2 5.6h-6.5zM219.8 176.6l3.2 5.6h-6.5zM220.8 177.8l3.2 5.6h-6.5zM221.8 179.4l3.2 5.6h-6.5zM222.8 181.1l3.2 5.6h-6.5zM223.8 182.5l3.2 5.6h-6.5zM224.8 183.4l3.2 5.6h-6.5zM225.8 185.2l3.2 5.6h-6.5zM226.8 186.8l3.2 5.6h-6.5zM227.8 187.9l3.2 5.6h-6.5zM228.8 188.9l3.2 5.6h-6.5zM229.8 191.1l3.2 5.6h-6.5zM230.8 192.5l3.2 5.6h-6.5zM231.8 194.1l3.2 5.6h-6.5zM232.8 195.5l3.2 5.6h-6.5zM233.8 197l3.2 5.6h-6.5zM234.8 198.5l3.2 5.6h-6.5zM235.8 200.3l3.2 5.6h-6.5zM236.8 201.5l3.2 5.6h-6.5zM237.9 202.9l3.2 5.6h-6.5zM238.9 204.1l3.2 5.6h-6.5zM239.9 206l3.2 5.6h-6.5zM240.9 207.1l3.2 5.6h-6.5zM241.9 208.8l3.2 5.6h-6.5zM242.9 209.4l3.2 5.6h-6.5zM243.9 211.5l3.2 5.6h-6.5zM244.9 212.8l3.2 5.6h-6.5zM245.9 214.1l3.2 5.6h-6.5zM246.9 216.1l3.2 5.6h-6.5zM247.9 217.2l3.2 5.6h-6.5zM248.9 218.4l3.2 5.6h-6.5zM249.9 219.7l3.2 5.6h-6.5zM250.9 221.7l3.2 5.6h-6.5zM251.9 222.7l3.2 5.6h-6.5zM252.9 224l3.2 5.6h-6.5zM253.9 224.9l3.2 5.6h-6.5zM254.9 226.8l3.2 5.6h-6.5zM255.9 227.9l3.2 5.6h-6.5zM256.9 228.9l3.2 5.6h-6.5zM257.9 230.2l3.2 5.6h-6.5zM258.9 231l3.2 5.6h-6.5zM259.9 232.8l3.2 5.6h-6.5zM260.9 233.7l3.2 5.6h-6.5zM261.9 235.1l3.2 5.6h-6.5zM262.9 236l3.2 5.6h-6.5zM263.9 237.1l3.2 5.6h-6.5zM264.9 238.3l3.2 5.6h-6.5zM265.9 239.4l3.2 5.6h-6.5zM267 240.3l3.2 5.6h-6.5zM268 241.5l3.2 5.6h-6.5zM269 242.6l3.2 5.6h-6.5zM270 243.6l3.2 5.6h-6.5zM271 244.5l3.2 5.6h-6.5zM272 245.6l3.2 5.6h-6.5zM273 246.5l3.2 5.6h-6.5zM274 247.6l3.2 5.6h-6.5zM275 248.7l3.2 5.6h-6.5zM276 249.6l3.2 5.6h-6.5zM277 250.6l3.2 5.6h-6.5zM278 251.4l3.2 5.6h-6.5zM279 252.6l3.2 5.6h-6.5zM280 253.5l3.2 5.6h-6.5zM281 254.5l3.2 5.6h-6.5zM282 255.5l3.2 5.6h-6.5zM283 256.6l3.2 5.6h-6.5zM284 257.2l3.2 5.6h-6.5zM285 258.1l3.2 5.6h-6.5zM286 259.3l3.2 5.6h-6.5zM287 260l3.2 5.6h-6.5zM288 261.1l3.2 5.6h-6.5zM289 261.8l3.2 5.6h-6.5zM290 262.7l3.2 5.6h-6.5zM291 263.7l3.2 5.6h-6.5zM292 264.6l3.2 5.6h-6.5zM293 265.4l3.2 5.6h-6.5zM294 266.2l3.2 5.6h-6.5zM295.1 266.9l3.2 5.6h-6.5zM296.1 267.7l3.2 5.6h-6.5zM297.1 268.5l3.2 5.6h-6.5zM298.1 269.5l3.2 5.6h-6.5zM299.1 270.2l3.2 5.6h-6.5zM300.1 270.8l3.2 5.6h-6.5zM301.1 271.6l3.2 5.6h-6.5zM302.1 272.4l3.2 5.6h-6.5zM303.1 273.1l3.2 5.6h-6.5zM304.1 273.7l3.2 5.6h-6.5zM305.1 274.4l3.2 5.6h-6.5zM306.1 275.1l3.2 5.6h-6.5zM307.1 276l3.2 5.6h-6.5zM308.1 276.4l3.2 5.6h-6.5zM309.1 277.1l3.2 5.6h-6.5zM310.1 277.4l3.2 5.6h-6.5zM311.1 278.2l3.2 5.6h-6.5zM312.1 278.5l3.2 5.6h-6.5zM313.1 279.1l3.2 5.6h-6.5zM314.1 279.7l3.2 5.6h-6.5zM315.1 280.3l3.2 5.6h-6.5zM316.1 280.8l3.2 5.6h-6.5zM317.1 281.3l3.2 5.6h-6.5zM318.1 281.7l3.2 5.6h-6.5zM319.1 282.1l3.2 5.6h-6.5zM320.1 282.9l3.2 5.6h-6.5zM321.1 283l3.2 5.6h-6.5zM322.1 283.4l3.2 5.6h-6.5zM323.2 283.9l3.2 5.6h-6.5zM324.2 284.1l3.2 5.6h-6.5zM325.2 284.4l3.2 5.6h-6.5zM326.2 284.7l3.2 5.6h-6.5zM327.2 285.1l3.2 5.6h-6.5zM328.2 285l3.2 5.6h-6.5zM329.2 285.3l3.2 5.6h-6.5zM330.2 285.6l3.2 5.6h-6.5zM331.2 285.6l3.2 5.6h-6.5zM332.2 285.9l3.2 5.6h-6.5zM333.2 286.2l3.2 5.6h-6.5zM334.2 286.2l3.2 5.6h-6.5zM335.2 286.3l3.2 5.6h-6.5zM336.2 286.4l3.2 5.6h-6.5zM337.2 286.2l3.2 5.6h-6.5z" fill="#008000"/>
</g>
<g stroke="#000" stroke-width="1.5"><rect x="72.85" y="3.9" width="404.75" height="286.85" fill="none" stroke="#000" stroke-width="1.7"/><line x1="72.85" x2="80.85" y1="290.90" y2="290.90"/><line x1="477.6" x2="469.6" y1="290.90" y2="290.90"/><line x1="72.85" x2="77.45" y1="273.50" y2="273.50"/><line x1="477.6" x2="473" y1="273.50" y2="273.50"/><line x1="72.85" x2="80.85" y1="256.10" y2="256.10"/><line x1="477.6" x2="469.6" y1="256.10" y2="256.10"/><line x1="72.85" x2="77.45" y1="238.70" y2="238.70"/><line x1="477.6" x2="473" y1="238.70" y2="238.70"/><line x1="72.85" x2="80.85" y1="221.30" y2="221.30"/><line x1="477.6" x2="469.6" y1="221.30" y2="221.30"/><line x1="72.85" x2="77.45" y1="203.90" y2="203.90"/><line x1="477.6" x2="473" y1="203.90" y2="203.90"/><line x1="72.85" x2="80.85" y1="186.50" y2="186.50"/><line x1="477.6" x2="469.6" y1="186.50" y2="186.50"/><line x1="72.85" x2="77.45" y1="169.10" y2="169.10"/><line x1="477.6" x2="473" y1="169.10" y2="169.10"/><line x1="72.85" x2="80.85" y1="151.70" y2="151.70"/><line x1="477.6" x2="469.6" y1="151.70" y2="151.70"/><line x1="72.85" x2="77.45" y1="134.30" y2="134.30"/><line x1="477.6" x2="473" y1="134.30" y2="134.30"/><line x1="72.85" x2="80.85" y1="116.90" y2="116.90"/><line x1="477.6" x2="469.6" y1="116.90" y2="116.90"/><line x1="72.85" x2="77.45" y1="99.50" y2="99.50"/><line x1="477.6" x2="473" y1="99.50" y2="99.50"/><line x1="72.85" x2="80.85" y1="82.10" y2="82.10"/><line x1="477.6" x2="469.6" y1="82.10" y2="82.10"/><line x1="72.85" x2="77.45" y1="64.70" y2="64.70"/><line x1="477.6" x2="473" y1="64.70" y2="64.70"/><line x1="72.85" x2="80.85" y1="47.30" y2="47.30"/><line x1="477.6" x2="469.6" y1="47.30" y2="47.30"/><line x1="72.85" x2="77.45" y1="29.90" y2="29.90"/><line x1="477.6" x2="473" y1="29.90" y2="29.90"/><line x1="72.85" x2="80.85" y1="12.50" y2="12.50"/><line x1="477.6" x2="469.6" y1="12.50" y2="12.50"/><line y1="290.75" y2="282.75" x1="72.85" x2="72.85"/><line y1="3.9" y2="11.9" x1="72.85" x2="72.85"/><line y1="290.75" y2="286.15" x1="113.32" x2="113.32"/><line y1="3.9" y2="8.5" x1="113.32" x2="113.32"/><line y1="290.75" y2="282.75" x1="153.80" x2="153.80"/><line y1="3.9" y2="11.9" x1="153.80" x2="153.80"/><line y1="290.75" y2="286.15" x1="194.28" x2="194.28"/><line y1="3.9" y2="8.5" x1="194.28" x2="194.28"/><line y1="290.75" y2="282.75" x1="234.75" x2="234.75"/><line y1="3.9" y2="11.9" x1="234.75" x2="234.75"/><line y1="290.75" y2="286.15" x1="275.23" x2="275.23"/><line y1="3.9" y2="8.5" x1="275.23" x2="275.23"/><line y1="290.75" y2="282.75" x1="315.70" x2="315.70"/><line y1="3.9" y2="11.9" x1="315.70" x2="315.70"/><line y1="290.75" y2="286.15" x1="356.18" x2="356.18"/><line y1="3.9" y2="8.5" x1="356.18" x2="356.18"/><line y1="290.75" y2="282.75" x1="396.65" x2="396.65"/><line y1="3.9" y2="11.9" x1="396.65" x2="396.65"/><line y1="290.75" y2="286.15" x1="437.12" x2="437.12"/><line y1="3.9" y2="8.5" x1="437.12" x2="437.12"/><line y1="290.75" y2="282.75" x1="477.60" x2="477.60"/><line y1="3.9" y2="11.9" x1="477.60" x2="477.60"/></g>
<rect x="268" y="6" width="206.5" height="124" fill="#fff" stroke="#808080" stroke-width="1.2"/>
<line x1="293" x2="324" y1="24.3" y2="24.3" stroke="#909090" stroke-width="1.4"/>
<line x1="293" x2="324" y1="45.6" y2="45.6" stroke="#404040" stroke-width="1"/>
<line x1="293" x2="324" y1="67" y2="67" stroke="#909090" stroke-width="1.4"/>
<line x1="293" x2="324" y1="88.6" y2="88.6" stroke="#404040" stroke-width="1"/>
<line x1="293" x2="324" y1="109.9" y2="109.9" stroke="#909090" stroke-width="1.4"/>
<circle cx="308.6" cy="24.3" r="2.7" fill="#000"/>
<rect x="306.1" y="43.1" width="5" height="5" fill="#ff8000"/>
<path d="M308.6 63.8 l3.2 3.2 l-3.2 3.2 l-3.2 -3.2z" fill="#0000ff"/>
<circle cx="308.6" cy="88.6" r="2.1" fill="#404040"/>
<path d="M308.6 106.5 l3.2 5.6 h-6.4z" fill="#008000"/>
<line x1="204.4" y1="52.5" x2="194.1" y2="79.4" stroke="#000" stroke-width="1"/><path d="M190.4 89.2 L191.3 78.3 L196.9 80.5 z" fill="#000"/>
<line x1="204.4" y1="52.5" x2="276.6" y2="81.6" stroke="#000" stroke-width="1"/><path d="M286.3 85.5 L275.4 84.4 L277.7 78.8 z" fill="#000"/>
<g clip-path="url(#c2)" fill="none" stroke-linejoin="round" stroke-linecap="round">
<path d="M82.8 369.0 L83.8 368.5 L84.8 368.4 L85.8 369.0 L86.8 369.3 L87.8 369.2 L88.8 369.2 L89.8 370.4 L90.8 370.7 L91.8 370.6 L92.8 370.4 L93.8 370.0 L94.8 370.4 L95.8 370.5 L96.8 371.5 L97.8 372.2 L98.8 372.5 L99.8 372.2 L100.8 372.3 L101.8 373.0 L102.8 373.2 L103.8 373.9 L104.8 374.7 L105.8 373.8 L106.8 375.8 L107.8 373.7 L108.8 374.2 L109.8 374.8 L110.8 375.5 L111.8 376.4 L112.8 378.2 L113.8 376.9 L114.8 378.4 L115.8 378.0 L116.8 378.8 L117.8 378.5 L118.8 381.0 L119.8 380.1 L120.8 380.2 L121.8 382.5 L122.9 381.7 L123.9 382.4 L124.9 382.6 L125.9 382.7 L126.9 382.9 L127.9 384.2 L128.9 385.8 L129.9 385.6 L130.9 385.9 L131.9 387.2 L132.9 386.6 L133.9 388.6 L134.9 388.3 L135.9 388.5 L136.9 390.0 L137.9 390.5 L138.9 390.6 L139.9 391.6 L140.9 392.7 L141.9 393.6 L142.9 393.0 L143.9 392.6 L144.9 396.0 L145.9 395.3 L146.9 396.0 L147.9 397.2 L148.9 397.4 L149.9 398.9 L150.9 398.3 L151.9 399.6 L152.9 399.7 L153.9 402.2 L154.9 401.8 L155.9 403.4 L156.9 404.3 L157.9 403.5 L158.9 404.9 L159.9 406.2 L160.9 406.6 L161.9 407.3 L162.9 408.7 L163.9 409.5 L164.9 409.4 L165.9 410.5 L166.9 411.8 L167.9 412.3 L168.9 413.1 L169.9 413.2 L170.9 415.7 L171.9 415.4 L172.9 416.5 L173.9 417.2 L174.9 418.1 L175.9 419.0 L176.9 419.3 L177.9 420.9 L178.9 422.3 L179.9 422.7 L180.9 423.7 L181.9 424.5 L182.9 425.1 L183.9 427.1 L184.9 426.4 L185.9 428.0 L186.9 429.3 L187.9 429.7 L188.9 429.9 L189.9 430.7 L190.9 433.3 L191.9 432.7 L192.9 434.2 L193.9 435.4 L194.9 436.1 L195.9 435.9 L196.9 436.8 L197.9 438.8 L198.9 439.3 L199.9 440.6 L200.9 441.7 L202.0 442.7 L203.0 442.8 L204.0 443.5 L205.0 446.1 L206.0 446.1 L207.0 446.7 L208.0 447.2 L209.0 449.7 L210.0 449.6 L211.0 450.7 L212.0 452.7 L213.0 453.4 L214.0 454.6 L215.0 454.5 L216.0 454.5 L217.0 456.6 L218.0 458.0 L219.0 458.8 L220.0 460.7 L221.0 461.3 L222.0 461.5 L223.0 463.4 L224.0 464.0 L225.0 464.8 L226.0 466.8 L227.0 466.1 L228.0 468.7 L229.0 469.7 L230.0 468.8 L231.0 470.9 L232.0 472.0 L233.0 472.4 L234.0 473.7 L235.0 474.6 L236.0 476.1 L237.0 476.7 L238.0 476.7 L239.0 479.8 L240.0 480.6 L241.0 480.5 L242.0 482.6 L243.0 484.3 L244.0 483.1 L245.0 484.8 L246.0 485.7 L247.0 487.4 L248.0 487.8 L249.0 488.2 L250.0 490.8 L251.0 490.8 L252.0 492.4 L253.0 494.4 L254.0 493.5 L255.0 494.7 L256.0 496.5 L257.0 496.9 L258.0 498.3 L259.0 498.9 L260.0 500.8 L261.0 501.1 L262.0 502.0 L263.0 502.9 L264.0 504.0 L265.0 504.3 L266.0 505.7 L267.0 507.0 L268.0 507.3 L269.0 508.7 L270.0 509.7 L271.0 510.5 L272.0 512.4 L273.0 512.8 L274.0 513.7 L275.0 514.2 L276.0 515.5 L277.0 516.3 L278.0 517.3 L279.0 518.4 L280.1 520.1 L281.1 520.7 L282.1 521.7 L283.1 522.6 L284.1 524.0 L285.1 523.8 L286.1 524.5 L287.1 525.9 L288.1 526.9 L289.1 527.7 L290.1 528.4 L291.1 529.8 L292.1 531.1 L293.1 531.5 L294.1 532.3 L295.1 533.7 L296.1 534.1 L297.1 535.0 L298.1 536.1 L299.1 536.2 L300.1 538.4 L301.1 538.7 L302.1 539.8 L303.1 540.6 L304.1 541.6 L305.1 541.9 L306.1 543.8 L307.1 544.3 L308.1 545.1 L309.1 546.9 L310.1 546.4 L311.1 547.9 L312.1 548.5 L313.1 548.9 L314.1 551.0 L315.1 550.7 L316.1 552.1 L317.1 552.9 L318.1 553.9 L319.1 554.4 L320.1 556.0 L321.1 556.5 L322.1 556.9 L323.1 557.7 L324.1 559.1 L325.1 559.5 L326.1 560.8 L327.1 561.7 L328.1 562.2 L329.1 562.6 L330.1 563.9 L331.1 565.0 L332.1 565.7 L333.1 566.9 L334.1 567.4 L335.1 568.3 L336.1 569.2 L337.1 570.0 L338.1 570.8 L339.1 571.8 L340.1 572.4 L341.1 573.3 L342.1 574.0 L343.1 575.2 L344.1 575.7 L345.1 576.6 L346.1 576.8 L347.1 578.0 L348.1 578.7 L349.1 579.6 L350.1 580.3 L351.1 581.0 L352.1 581.9 L353.1 582.9 L354.1 583.7 L355.1 584.2 L356.1 585.2 L357.1 585.7 L358.1 586.7 L359.2 587.2 L360.2 588.2 L361.2 589.2 L362.2 589.5 L363.2 590.5 L364.2 590.8 L365.2 591.6 L366.2 592.9 L367.2 593.2 L368.2 594.0 L369.2 594.3 L370.2 595.3 L371.2 595.9 L372.2 596.9 L373.2 597.3 L374.2 598.5 L375.2 598.6 L376.2 599.5 L377.2 599.8 L378.2 600.7 L379.2 601.6 L380.2 602.1 L381.2 602.5 L382.2 603.5 L383.2 604.2 L384.2 604.7 L385.2 605.5 L386.2 605.7 L387.2 606.8 L388.2 607.3 L389.2 607.4 L390.2 608.7 L391.2 608.9 L392.2 609.6 L393.2 609.8 L394.2 610.6 L395.2 611.0 L396.2 612.0 L397.2 612.4 L398.2 612.8 L399.2 613.5 L400.2 614.3 L401.2 614.5 L402.2 615.2 L403.2 615.5 L404.2 615.9 L405.2 616.6 L406.2 617.2 L407.2 617.7 L408.2 618.3 L409.2 618.6 L410.2 619.1 L411.2 619.8 L412.2 620.2 L413.2 620.6 L414.2 621.1 L415.2 621.1 L416.2 621.8 L417.2 622.1 L418.2 622.7 L419.2 623.4 L420.2 623.4 L421.2 624.2 L422.2 624.4 L423.2 624.9 L424.2 625.2 L425.2 625.8 L426.2 626.0 L427.2 626.2 L428.2 626.9 L429.2 627.2 L430.2 627.7 L431.2 628.1 L432.2 628.2 L433.2 628.8 L434.2 629.1 L435.2 629.4 L436.2 629.8 L437.2 630.2 L438.3 630.4 L439.3 630.8 L440.3 631.3 L441.3 631.3 L442.3 631.8 L443.3 631.9 L444.3 632.2 L445.3 632.7 L446.3 633.1 L447.3 633.6 L448.3 633.6 L449.3 634.1 L450.3 634.3 L451.3 634.5 L452.3 634.3 L453.3 635.1 L454.3 635.4 L455.3 635.5 L456.3 635.9 L457.3 636.4 L458.3 636.2 L459.3 636.6 L460.3 637.1 L461.3 636.9 L462.3 637.3 L463.3 637.8 L464.3 638.1 L465.3 638.4 L466.3 638.6 L467.3 639.1 L468.3 639.0 L469.3 638.9 L470.3 639.4 L471.3 639.7 L472.3 639.9 L473.3 639.8 L474.3 640.4 L475.3 640.4 L476.3 640.7 L477.3 641.2" stroke="#000" stroke-width="3.3"/>
<path d="M81.3 367.2h2.9v2.9h-2.9zM82.4 367h2.9v2.9h-2.9zM83.4 367.3h2.9v2.9h-2.9zM84.4 367.1h2.9v2.9h-2.9zM85.4 368.6h2.9v2.9h-2.9zM86.4 368h2.9v2.9h-2.9zM87.4 368.2h2.9v2.9h-2.9zM88.4 367.5h2.9v2.9h-2.9zM89.4 367.7h2.9v2.9h-2.9zM90.4 368.4h2.9v2.9h-2.9zM91.4 367.2h2.9v2.9h-2.9zM92.4 369.2h2.9v2.9h-2.9zM93.4 368.2h2.9v2.9h-2.9zM94.4 369.3h2.9v2.9h-2.9zM95.4 369.7h2.9v2.9h-2.9zM96.4 369.4h2.9v2.9h-2.9zM97.4 370.4h2.9v2.9h-2.9zM98.4 370.9h2.9v2.9h-2.9zM99.4 371.9h2.9v2.9h-2.9zM100.4 371.5h2.9v2.9h-2.9zM101.4 372.7h2.9v2.9h-2.9zM102.4 372.4h2.9v2.9h-2.9zM103.4 372.5h2.9v2.9h-2.9zM104.4 373.5h2.9v2.9h-2.9zM105.4 373.2h2.9v2.9h-2.9zM106.4 374.1h2.9v2.9h-2.9zM107.4 374.8h2.9v2.9h-2.9zM108.4 375.6h2.9v2.9h-2.9zM109.4 375.7h2.9v2.9h-2.9zM110.4 375.3h2.9v2.9h-2.9zM111.4 377.3h2.9v2.9h-2.9zM112.4 377.3h2.9v2.9h-2.9zM113.4 377.6h2.9v2.9h-2.9zM114.4 377.9h2.9v2.9h-2.9zM115.4 379.2h2.9v2.9h-2.9zM116.4 379.7h2.9v2.9h-2.9zM117.4 380.5h2.9v2.9h-2.9zM118.4 380.6h2.9v2.9h-2.9zM119.4 382.2h2.9v2.9h-2.9zM120.4 381.8h2.9v2.9h-2.9zM121.4 382.8h2.9v2.9h-2.9zM122.4 383.3h2.9v2.9h-2.9zM123.4 384.5h2.9v2.9h-2.9zM124.4 384.1h2.9v2.9h-2.9zM125.4 385h2.9v2.9h-2.9zM126.4 385.7h2.9v2.9h-2.9zM127.4 386.1h2.9v2.9h-2.9zM128.4 386.8h2.9v2.9h-2.9zM129.4 387.1h2.9v2.9h-2.9zM130.4 388.9h2.9v2.9h-2.9zM131.4 389.9h2.9v2.9h-2.9zM132.4 389.3h2.9v2.9h-2.9zM133.4 390.9h2.9v2.9h-2.9zM134.4 390.5h2.9v2.9h-2.9zM135.4 391.4h2.9v2.9h-2.9zM136.4 392.3h2.9v2.9h-2.9zM137.4 393.2h2.9v2.9h-2.9zM138.4 394.1h2.9v2.9h-2.9zM139.4 393.5h2.9v2.9h-2.9zM140.4 394.5h2.9v2.9h-2.9zM141.4 396h2.9v2.9h-2.9zM142.4 396.5h2.9v2.9h-2.9zM143.4 398.6h2.9v2.9h-2.9zM144.4 398h2.9v2.9h-2.9zM145.4 398.5h2.9v2.9h-2.9zM146.4 400.2h2.9v2.9h-2.9zM147.4 398.8h2.9v2.9h-2.9zM148.4 400h2.9v2.9h-2.9zM149.4 403.3h2.9v2.9h-2.9zM150.4 402.2h2.9v2.9h-2.9zM151.4 403.4h2.9v2.9h-2.9zM152.4 404h2.9v2.9h-2.9zM153.4 404.4h2.9v2.9h-2.9zM154.4 405.6h2.9v2.9h-2.9zM155.4 405.8h2.9v2.9h-2.9zM156.4 407.9h2.9v2.9h-2.9zM157.4 408.6h2.9v2.9h-2.9zM158.4 409.4h2.9v2.9h-2.9zM159.4 409.3h2.9v2.9h-2.9zM160.5 409.6h2.9v2.9h-2.9zM161.5 411.3h2.9v2.9h-2.9zM162.5 411.8h2.9v2.9h-2.9zM163.5 413.6h2.9v2.9h-2.9zM164.5 413.4h2.9v2.9h-2.9zM165.5 414.6h2.9v2.9h-2.9zM166.5 416.1h2.9v2.9h-2.9zM167.5 417.2h2.9v2.9h-2.9zM168.5 418h2.9v2.9h-2.9zM169.5 418.2h2.9v2.9h-2.9zM170.5 419.5h2.9v2.9h-2.9zM171.5 421.9h2.9v2.9h-2.9zM172.5 422.3h2.9v2.9h-2.9zM173.5 422.3h2.9v2.9h-2.9zM174.5 424.8h2.9v2.9h-2.9zM175.5 424.7h2.9v2.9h-2.9zM176.5 425.8h2.9v2.9h-2.9zM177.5 426.3h2.9v2.9h-2.9zM178.5 428.6h2.9v2.9h-2.9zM179.5 428.9h2.9v2.9h-2.9zM180.5 429.8h2.9v2.9h-2.9zM181.5 430.4h2.9v2.9h-2.9zM182.5 431.2h2.9v2.9h-2.9zM183.5 433.1h2.9v2.9h-2.9zM184.5 434.1h2.9v2.9h-2.9zM185.5 436h2.9v2.9h-2.9zM186.5 435.7h2.9v2.9h-2.9zM187.5 437h2.9v2.9h-2.9zM188.5 438.9h2.9v2.9h-2.9zM189.5 439.9h2.9v2.9h-2.9zM190.5 440.1h2.9v2.9h-2.9zM191.5 442.4h2.9v2.9h-2.9zM192.5 442.9h2.9v2.9h-2.9zM193.5 444.2h2.9v2.9h-2.9zM194.5 445h2.9v2.9h-2.9zM195.5 446.5h2.9v2.9h-2.9zM196.5 446.8h2.9v2.9h-2.9zM197.5 448h2.9v2.9h-2.9zM198.5 449.8h2.9v2.9h-2.9zM199.5 450.6h2.9v2.9h-2.9zM200.5 451.6h2.9v2.9h-2.9zM201.5 453.2h2.9v2.9h-2.9zM202.5 453.8h2.9v2.9h-2.9zM203.5 455h2.9v2.9h-2.9zM204.5 454.6h2.9v2.9h-2.9zM205.5 456.7h2.9v2.9h-2.9zM206.5 458.5h2.9v2.9h-2.9zM207.5 458.7h2.9v2.9h-2.9zM208.5 460.1h2.9v2.9h-2.9zM209.5 461.5h2.9v2.9h-2.9zM210.5 462.4h2.9v2.9h-2.9zM211.5 464h2.9v2.9h-2.9zM212.5 464.9h2.9v2.9h-2.9zM213.5 465.7h2.9v2.9h-2.9zM214.5 467.4h2.9v2.9h-2.9zM215.5 467.7h2.9v2.9h-2.9zM216.5 468.6h2.9v2.9h-2.9zM217.5 470.3h2.9v2.9h-2.9zM218.5 471.5h2.9v2.9h-2.9zM219.5 472.2h2.9v2.9h-2.9zM220.5 472.8h2.9v2.9h-2.9zM221.5 474.1h2.9v2.9h-2.9zM222.5 475.6h2.9v2.9h-2.9zM223.5 477h2.9v2.9h-2.9zM224.5 478.6h2.9v2.9h-2.9zM225.5 478.6h2.9v2.9h-2.9zM226.5 479.7h2.9v2.9h-2.9zM227.5 479.7h2.9v2.9h-2.9zM228.5 482.6h2.9v2.9h-2.9zM229.5 483.5h2.9v2.9h-2.9zM230.5 484h2.9v2.9h-2.9zM231.5 484.7h2.9v2.9h-2.9zM232.5 484.7h2.9v2.9h-2.9zM233.5 487.6h2.9v2.9h-2.9zM234.5 487.8h2.9v2.9h-2.9zM235.5 490.1h2.9v2.9h-2.9zM236.5 490.8h2.9v2.9h-2.9zM237.5 492.1h2.9v2.9h-2.9zM238.5 492.3h2.9v2.9h-2.9zM239.6 494.1h2.9v2.9h-2.9zM240.6 493.7h2.9v2.9h-2.9zM241.6 496.3h2.9v2.9h-2.9zM242.6 496.5h2.9v2.9h-2.9zM243.6 496.9h2.9v2.9h-2.9zM244.6 498.4h2.9v2.9h-2.9zM245.6 499.1h2.9v2.9h-2.9zM246.6 500.8h2.9v2.9h-2.9zM247.6 501.3h2.9v2.9h-2.9zM248.6 502h2.9v2.9h-2.9zM249.6 503.5h2.9v2.9h-2.9zM250.6 504.6h2.9v2.9h-2.9zM251.6 505.9h2.9v2.9h-2.9zM252.6 507.1h2.9v2.9h-2.9zM253.6 508.4h2.9v2.9h-2.9zM254.6 509h2.9v2.9h-2.9zM255.6 510.7h2.9v2.9h-2.9zM256.6 509.4h2.9v2.9h-2.9zM257.6 511.7h2.9v2.9h-2.9zM258.6 513h2.9v2.9h-2.9zM259.6 513.3h2.9v2.9h-2.9zM260.6 514.7h2.9v2.9h-2.9zM261.6 515.8h2.9v2.9h-2.9zM262.6 516.2h2.9v2.9h-2.9zM263.6 517.5h2.9v2.9h-2.9zM264.6 518.8h2.9v2.9h-2.9zM265.6 519.5h2.9v2.9h-2.9zM266.6 521h2.9v2.9h-2.9zM267.6 522.3h2.9v2.9h-2.9zM268.6 522.5h2.9v2.9h-2.9zM269.6 523.1h2.9v2.9h-2.9zM270.6 524.4h2.9v2.9h-2.9zM271.6 525.2h2.9v2.9h-2.9zM272.6 525.9h2.9v2.9h-2.9zM273.6 527.2h2.9v2.9h-2.9zM274.6 528.1h2.9v2.9h-2.9zM275.6 529.1h2.9v2.9h-2.9zM276.6 530.4h2.9v2.9h-2.9zM277.6 531.4h2.9v2.9h-2.9zM278.6 532.1h2.9v2.9h-2.9zM279.6 532.8h2.9v2.9h-2.9zM280.6 534h2.9v2.9h-2.9zM281.6 534.8h2.9v2.9h-2.9zM282.6 535.8h2.9v2.9h-2.9zM283.6 536.4h2.9v2.9h-2.9zM284.6 536.6h2.9v2.9h-2.9zM285.6 538.8h2.9v2.9h-2.9zM286.6 539.2h2.9v2.9h-2.9zM287.6 540.2h2.9v2.9h-2.9zM288.6 541.2h2.9v2.9h-2.9zM289.6 542.1h2.9v2.9h-2.9zM290.6 542.9h2.9v2.9h-2.9zM291.6 544.4h2.9v2.9h-2.9zM292.6 544.9h2.9v2.9h-2.9zM293.6 545.8h2.9v2.9h-2.9zM294.6 546.3h2.9v2.9h-2.9zM295.6 547.4h2.9v2.9h-2.9zM296.6 548.5h2.9v2.9h-2.9zM297.6 549.2h2.9v2.9h-2.9zM298.6 550.2h2.9v2.9h-2.9zM299.6 550.7h2.9v2.9h-2.9zM300.6 552h2.9v2.9h-2.9zM301.6 552.4h2.9v2.9h-2.9zM302.6 553.5h2.9v2.9h-2.9zM303.6 554.2h2.9v2.9h-2.9zM304.6 555.4h2.9v2.9h-2.9zM305.6 556.5h2.9v2.9h-2.9zM306.6 557.1h2.9v2.9h-2.9zM307.6 557.6h2.9v2.9h-2.9zM308.6 558.7h2.9v2.9h-2.9zM309.6 559.8h2.9v2.9h-2.9zM310.6 560.6h2.9v2.9h-2.9zM311.6 561.3h2.9v2.9h-2.9zM312.6 561.7h2.9v2.9h-2.9zM313.6 562.7h2.9v2.9h-2.9zM314.6 563.5h2.9v2.9h-2.9zM315.6 564.4h2.9v2.9h-2.9zM316.6 565.4h2.9v2.9h-2.9zM317.6 566.1h2.9v2.9h-2.9zM318.7 566.8h2.9v2.9h-2.9zM319.7 567.9h2.9v2.9h-2.9zM320.7 568.3h2.9v2.9h-2.9zM321.7 569.2h2.9v2.9h-2.9zM322.7 570.2h2.9v2.9h-2.9zM323.7 570.5h2.9v2.9h-2.9zM324.7 571.4h2.9v2.9h-2.9zM325.7 572.1h2.9v2.9h-2.9zM326.7 573h2.9v2.9h-2.9zM327.7 574h2.9v2.9h-2.9zM328.7 574.8h2.9v2.9h-2.9zM329.7 575.6h2.9v2.9h-2.9zM330.7 576.4h2.9v2.9h-2.9zM331.7 576.9h2.9v2.9h-2.9zM332.7 578.1h2.9v2.9h-2.9zM333.7 578.8h2.9v2.9h-2.9zM334.7 579.2h2.9v2.9h-2.9zM335.7 580h2.9v2.9h-2.9zM336.7 580.8h2.9v2.9h-2.9zM337.7 581.6h2.9v2.9h-2.9zM338.7 582.4h2.9v2.9h-2.9zM339.7 583.1h2.9v2.9h-2.9zM340.7 583.4h2.9v2.9h-2.9zM341.7 584.9h2.9v2.9h-2.9zM342.7 585.4h2.9v2.9h-2.9zM343.7 586.1h2.9v2.9h-2.9zM344.7 586.5h2.9v2.9h-2.9zM345.7 587.4h2.9v2.9h-2.9zM346.7 588.2h2.9v2.9h-2.9zM347.7 588.7h2.9v2.9h-2.9zM348.7 589.6h2.9v2.9h-2.9zM349.7 590.2h2.9v2.9h-2.9zM350.7 591.1h2.9v2.9h-2.9zM351.7 591.5h2.9v2.9h-2.9zM352.7 592.4h2.9v2.9h-2.9zM353.7 592.6h2.9v2.9h-2.9zM354.7 593.8h2.9v2.9h-2.9zM355.7 594.3h2.9v2.9h-2.9zM356.7 594.8h2.9v2.9h-2.9zM357.7 595.7h2.9v2.9h-2.9zM358.7 596.1h2.9v2.9h-2.9zM359.7 597h2.9v2.9h-2.9zM360.7 597.6h2.9v2.9h-2.9zM361.7 598.3h2.9v2.9h-2.9zM362.7 599.1h2.9v2.9h-2.9zM363.7 599.6h2.9v2.9h-2.9zM364.7 600.4h2.9v2.9h-2.9zM365.7 600.8h2.9v2.9h-2.9zM366.7 601.3h2.9v2.9h-2.9zM367.7 601.9h2.9v2.9h-2.9zM368.7 602.5h2.9v2.9h-2.9zM369.7 602.9h2.9v2.9h-2.9zM370.7 603.7h2.9v2.9h-2.9zM371.7 604.1h2.9v2.9h-2.9zM372.7 604.9h2.9v2.9h-2.9zM373.7 605.4h2.9v2.9h-2.9zM374.7 606h2.9v2.9h-2.9zM375.7 606.5h2.9v2.9h-2.9zM376.7 607.3h2.9v2.9h-2.9zM377.7 607.8h2.9v2.9h-2.9zM378.7 608.6h2.9v2.9h-2.9zM379.7 609h2.9v2.9h-2.9zM380.7 609.6h2.9v2.9h-2.9zM381.7 610h2.9v2.9h-2.9zM382.7 610.6h2.9v2.9h-2.9zM383.7 611h2.9v2.9h-2.9zM384.7 611.6h2.9v2.9h-2.9zM385.7 612.3h2.9v2.9h-2.9zM386.7 612.7h2.9v2.9h-2.9zM387.7 613.3h2.9v2.9h-2.9zM388.7 613.7h2.9v2.9h-2.9zM389.7 614.6h2.9v2.9h-2.9zM390.7 614.8h2.9v2.9h-2.9zM391.7 615.5h2.9v2.9h-2.9zM392.7 615.9h2.9v2.9h-2.9zM393.7 616.5h2.9v2.9h-2.9zM394.7 616.7h2.9v2.9h-2.9zM395.7 617.1h2.9v2.9h-2.9zM396.7 618h2.9v2.9h-2.9zM397.8 618.3h2.9v2.9h-2.9zM398.8 618.8h2.9v2.9h-2.9zM399.8 619.4h2.9v2.9h-2.9zM400.8 619.8h2.9v2.9h-2.9zM401.8 620.2h2.9v2.9h-2.9zM402.8 620.5h2.9v2.9h-2.9zM403.8 621h2.9v2.9h-2.9zM404.8 621.6h2.9v2.9h-2.9zM405.8 622.1h2.9v2.9h-2.9zM406.8 622.5h2.9v2.9h-2.9zM407.8 622.9h2.9v2.9h-2.9zM408.8 623.2h2.9v2.9h-2.9zM409.8 623.7h2.9v2.9h-2.9zM410.8 624.3h2.9v2.9h-2.9zM411.8 624.4h2.9v2.9h-2.9zM412.8 624.9h2.9v2.9h-2.9zM413.8 625.5h2.9v2.9h-2.9zM414.8 626h2.9v2.9h-2.9zM415.8 626.2h2.9v2.9h-2.9zM416.8 626.5h2.9v2.9h-2.9zM417.8 626.8h2.9v2.9h-2.9zM418.8 627.3h2.9v2.9h-2.9zM419.8 627.5h2.9v2.9h-2.9zM420.8 628h2.9v2.9h-2.9zM421.8 628.5h2.9v2.9h-2.9zM422.8 628.8h2.9v2.9h-2.9zM423.8 629.3h2.9v2.9h-2.9zM424.8 629.3h2.9v2.9h-2.9zM425.8 629.6h2.9v2.9h-2.9zM426.8 630.3h2.9v2.9h-2.9zM427.8 630.6h2.9v2.9h-2.9zM428.8 630.6h2.9v2.9h-2.9zM429.8 631.1h2.9v2.9h-2.9zM430.8 631.3h2.9v2.9h-2.9zM431.8 631.7h2.9v2.9h-2.9zM432.8 632.1h2.9v2.9h-2.9zM433.8 632.5h2.9v2.9h-2.9zM434.8 632.5h2.9v2.9h-2.9zM435.8 632.7h2.9v2.9h-2.9zM436.8 633.3h2.9v2.9h-2.9zM437.8 633.4h2.9v2.9h-2.9zM438.8 634h2.9v2.9h-2.9zM439.8 633.8h2.9v2.9h-2.9zM440.8 634.2h2.9v2.9h-2.9zM441.8 634.1h2.9v2.9h-2.9zM442.8 635h2.9v2.9h-2.9zM443.8 635.2h2.9v2.9h-2.9zM444.8 635.3h2.9v2.9h-2.9zM445.8 635.5h2.9v2.9h-2.9zM446.8 635.4h2.9v2.9h-2.9zM447.8 635.8h2.9v2.9h-2.9zM448.8 636.1h2.9v2.9h-2.9zM449.8 636.7h2.9v2.9h-2.9zM450.8 636.7h2.9v2.9h-2.9zM451.8 636.7h2.9v2.9h-2.9zM452.8 637.1h2.9v2.9h-2.9zM453.8 637.3h2.9v2.9h-2.9zM454.8 637.4h2.9v2.9h-2.9zM455.8 637.4h2.9v2.9h-2.9zM456.8 637.7h2.9v2.9h-2.9zM457.8 638h2.9v2.9h-2.9zM458.8 638.2h2.9v2.9h-2.9zM459.8 638.2h2.9v2.9h-2.9zM460.8 638.7h2.9v2.9h-2.9zM461.8 638.5h2.9v2.9h-2.9zM462.8 638.6h2.9v2.9h-2.9zM463.8 638.9h2.9v2.9h-2.9zM464.8 639h2.9v2.9h-2.9zM465.8 639h2.9v2.9h-2.9zM466.8 639.4h2.9v2.9h-2.9zM467.8 639.4h2.9v2.9h-2.9zM468.8 639.4h2.9v2.9h-2.9zM469.8 639.6h2.9v2.9h-2.9zM470.8 639.6h2.9v2.9h-2.9zM471.8 639.6h2.9v2.9h-2.9zM472.8 639.8h2.9v2.9h-2.9zM473.8 639.7h2.9v2.9h-2.9zM474.8 639.8h2.9v2.9h-2.9zM475.9 640h2.9v2.9h-2.9z" fill="#ff8000"/>
<path d="M82.8 366l2.5 2.5l-2.5 2.5l-2.5 -2.5zM83.8 366.3l2.5 2.5l-2.5 2.5l-2.5 -2.5zM84.8 366.2l2.5 2.5l-2.5 2.5l-2.5 -2.5zM85.8 366.8l2.5 2.5l-2.5 2.5l-2.5 -2.5zM86.8 366.5l2.5 2.5l-2.5 2.5l-2.5 -2.5zM87.8 367.3l2.5 2.5l-2.5 2.5l-2.5 -2.5zM88.8 367.3l2.5 2.5l-2.5 2.5l-2.5 -2.5zM89.8 366.8l2.5 2.5l-2.5 2.5l-2.5 -2.5zM90.8 367.1l2.5 2.5l-2.5 2.5l-2.5 -2.5zM91.8 367.1l2.5 2.5l-2.5 2.5l-2.5 -2.5zM92.8 367.3l2.5 2.5l-2.5 2.5l-2.5 -2.5zM93.8 367.6l2.5 2.5l-2.5 2.5l-2.5 -2.5zM94.8 368l2.5 2.5l-2.5 2.5l-2.5 -2.5zM95.8 368.3l2.5 2.5l-2.5 2.5l-2.5 -2.5zM96.8 368.3l2.5 2.5l-2.5 2.5l-2.5 -2.5zM97.8 367.6l2.5 2.5l-2.5 2.5l-2.5 -2.5zM98.8 367.9l2.5 2.5l-2.5 2.5l-2.5 -2.5zM99.8 368.2l2.5 2.5l-2.5 2.5l-2.5 -2.5zM100.8 368.3l2.5 2.5l-2.5 2.5l-2.5 -2.5zM101.8 368.5l2.5 2.5l-2.5 2.5l-2.5 -2.5zM102.8 368.8l2.5 2.5l-2.5 2.5l-2.5 -2.5zM103.8 368.7l2.5 2.5l-2.5 2.5l-2.5 -2.5zM104.8 368.8l2.5 2.5l-2.5 2.5l-2.5 -2.5zM105.8 369.8l2.5 2.5l-2.5 2.5l-2.5 -2.5zM106.8 369.5l2.5 2.5l-2.5 2.5l-2.5 -2.5zM107.8 370.1l2.5 2.5l-2.5 2.5l-2.5 -2.5zM108.8 369.5l2.5 2.5l-2.5 2.5l-2.5 -2.5zM109.8 370.2l2.5 2.5l-2.5 2.5l-2.5 -2.5zM110.8 370.5l2.5 2.5l-2.5 2.5l-2.5 -2.5zM111.8 370.6l2.5 2.5l-2.5 2.5l-2.5 -2.5zM112.8 370.2l2.5 2.5l-2.5 2.5l-2.5 -2.5zM113.8 370.7l2.5 2.5l-2.5 2.5l-2.5 -2.5zM114.8 370.6l2.5 2.5l-2.5 2.5l-2.5 -2.5zM115.8 370.7l2.5 2.5l-2.5 2.5l-2.5 -2.5zM116.8 371.2l2.5 2.5l-2.5 2.5l-2.5 -2.5zM117.8 371.6l2.5 2.5l-2.5 2.5l-2.5 -2.5zM118.8 371.6l2.5 2.5l-2.5 2.5l-2.5 -2.5zM119.8 371.9l2.5 2.5l-2.5 2.5l-2.5 -2.5zM120.8 372.3l2.5 2.5l-2.5 2.5l-2.5 -2.5zM121.8 372.2l2.5 2.5l-2.5 2.5l-2.5 -2.5zM122.9 372.7l2.5 2.5l-2.5 2.5l-2.5 -2.5zM123.9 373.1l2.5 2.5l-2.5 2.5l-2.5 -2.5zM124.9 373.3l2.5 2.5l-2.5 2.5l-2.5 -2.5zM125.9 373.5l2.5 2.5l-2.5 2.5l-2.5 -2.5zM126.9 373.4l2.5 2.5l-2.5 2.5l-2.5 -2.5zM127.9 373.9l2.5 2.5l-2.5 2.5l-2.5 -2.5zM128.9 374.1l2.5 2.5l-2.5 2.5l-2.5 -2.5zM129.9 374.7l2.5 2.5l-2.5 2.5l-2.5 -2.5zM130.9 374.3l2.5 2.5l-2.5 2.5l-2.5 -2.5zM131.9 375.1l2.5 2.5l-2.5 2.5l-2.5 -2.5zM132.9 375l2.5 2.5l-2.5 2.5l-2.5 -2.5zM133.9 375.9l2.5 2.5l-2.5 2.5l-2.5 -2.5zM134.9 375.9l2.5 2.5l-2.5 2.5l-2.5 -2.5zM135.9 376.4l2.5 2.5l-2.5 2.5l-2.5 -2.5zM136.9 376.9l2.5 2.5l-2.5 2.5l-2.5 -2.5zM137.9 377.5l2.5 2.5l-2.5 2.5l-2.5 -2.5zM138.9 377.1l2.5 2.5l-2.5 2.5l-2.5 -2.5zM139.9 377.7l2.5 2.5l-2.5 2.5l-2.5 -2.5zM140.9 377.5l2.5 2.5l-2.5 2.5l-2.5 -2.5zM141.9 378.4l2.5 2.5l-2.5 2.5l-2.5 -2.5zM142.9 378.6l2.5 2.5l-2.5 2.5l-2.5 -2.5zM143.9 379.4l2.5 2.5l-2.5 2.5l-2.5 -2.5zM144.9 379.5l2.5 2.5l-2.5 2.5l-2.5 -2.5zM145.9 380l2.5 2.5l-2.5 2.5l-2.5 -2.5zM146.9 380.1l2.5 2.5l-2.5 2.5l-2.5 -2.5zM147.9 380.7l2.5 2.5l-2.5 2.5l-2.5 -2.5zM148.9 380.9l2.5 2.5l-2.5 2.5l-2.5 -2.5zM149.9 381.6l2.5 2.5l-2.5 2.5l-2.5 -2.5zM150.9 381.6l2.5 2.5l-2.5 2.5l-2.5 -2.5zM151.9 382.6l2.5 2.5l-2.5 2.5l-2.5 -2.5zM152.9 383.2l2.5 2.5l-2.5 2.5l-2.5 -2.5zM153.9 384.1l2.5 2.5l-2.5 2.5l-2.5 -2.5zM154.9 384.3l2.5 2.5l-2.5 2.5l-2.5 -2.5zM155.9 384.7l2.5 2.5l-2.5 2.5l-2.5 -2.5zM156.9 385l2.5 2.5l-2.5 2.5l-2.5 -2.5zM157.9 385.7l2.5 2.5l-2.5 2.5l-2.5 -2.5zM158.9 385.8l2.5 2.5l-2.5 2.5l-2.5 -2.5zM159.9 386.4l2.5 2.5l-2.5 2.5l-2.5 -2.5zM160.9 386.3l2.5 2.5l-2.5 2.5l-2.5 -2.5zM161.9 387.2l2.5 2.5l-2.5 2.5l-2.5 -2.5zM162.9 388.1l2.5 2.5l-2.5 2.5l-2.5 -2.5zM163.9 387.9l2.5 2.5l-2.5 2.5l-2.5 -2.5zM164.9 389l2.5 2.5l-2.5 2.5l-2.5 -2.5zM165.9 389.4l2.5 2.5l-2.5 2.5l-2.5 -2.5zM166.9 389.9l2.5 2.5l-2.5 2.5l-2.5 -2.5zM167.9 390.6l2.5 2.5l-2.5 2.5l-2.5 -2.5zM168.9 391.1l2.5 2.5l-2.5 2.5l-2.5 -2.5zM169.9 391.4l2.5 2.5l-2.5 2.5l-2.5 -2.5zM170.9 392.3l2.5 2.5l-2.5 2.5l-2.5 -2.5zM171.9 392.4l2.5 2.5l-2.5 2.5l-2.5 -2.5zM172.9 393.9l2.5 2.5l-2.5 2.5l-2.5 -2.5zM173.9 394.1l2.5 2.5l-2.5 2.5l-2.5 -2.5zM174.9 394.9l2.5 2.5l-2.5 2.5l-2.5 -2.5zM175.9 395.1l2.5 2.5l-2.5 2.5l-2.5 -2.5zM176.9 396.5l2.5 2.5l-2.5 2.5l-2.5 -2.5zM177.9 396.9l2.5 2.5l-2.5 2.5l-2.5 -2.5zM178.9 397.3l2.5 2.5l-2.5 2.5l-2.5 -2.5zM179.9 397.9l2.5 2.5l-2.5 2.5l-2.5 -2.5zM180.9 398.7l2.5 2.5l-2.5 2.5l-2.5 -2.5zM181.9 399l2.5 2.5l-2.5 2.5l-2.5 -2.5zM182.9 399.8l2.5 2.5l-2.5 2.5l-2.5 -2.5zM183.9 400.5l2.5 2.5l-2.5 2.5l-2.5 -2.5zM184.9 401.4l2.5 2.5l-2.5 2.5l-2.5 -2.5zM185.9 402.4l2.5 2.5l-2.5 2.5l-2.5 -2.5zM186.9 403l2.5 2.5l-2.5 2.5l-2.5 -2.5zM187.9 403.4l2.5 2.5l-2.5 2.5l-2.5 -2.5zM188.9 404.3l2.5 2.5l-2.5 2.5l-2.5 -2.5zM189.9 404.7l2.5 2.5l-2.5 2.5l-2.5 -2.5zM190.9 405.4l2.5 2.5l-2.5 2.5l-2.5 -2.5zM191.9 405.8l2.5 2.5l-2.5 2.5l-2.5 -2.5zM192.9 406.7l2.5 2.5l-2.5 2.5l-2.5 -2.5zM193.9 407.4l2.5 2.5l-2.5 2.5l-2.5 -2.5zM194.9 408.5l2.5 2.5l-2.5 2.5l-2.5 -2.5zM195.9 409.2l2.5 2.5l-2.5 2.5l-2.5 -2.5zM196.9 410.2l2.5 2.5l-2.5 2.5l-2.5 -2.5zM197.9 411.1l2.5 2.5l-2.5 2.5l-2.5 -2.5zM198.9 411.8l2.5 2.5l-2.5 2.5l-2.5 -2.5zM199.9 412.3l2.5 2.5l-2.5 2.5l-2.5 -2.5zM200.9 413l2.5 2.5l-2.5 2.5l-2.5 -2.5zM202 413.9l2.5 2.5l-2.5 2.5l-2.5 -2.5zM203 414.9l2.5 2.5l-2.5 2.5l-2.5 -2.5zM204 415.3l2.5 2.5l-2.5 2.5l-2.5 -2.5zM205 416l2.5 2.5l-2.5 2.5l-2.5 -2.5zM206 417.1l2.5 2.5l-2.5 2.5l-2.5 -2.5zM207 418.3l2.5 2.5l-2.5 2.5l-2.5 -2.5zM208 419.2l2.5 2.5l-2.5 2.5l-2.5 -2.5zM209 419.8l2.5 2.5l-2.5 2.5l-2.5 -2.5zM210 420l2.5 2.5l-2.5 2.5l-2.5 -2.5zM211 421.3l2.5 2.5l-2.5 2.5l-2.5 -2.5zM212 422.4l2.5 2.5l-2.5 2.5l-2.5 -2.5zM213 423.3l2.5 2.5l-2.5 2.5l-2.5 -2.5zM214 424.4l2.5 2.5l-2.5 2.5l-2.5 -2.5zM215 424.5l2.5 2.5l-2.5 2.5l-2.5 -2.5zM216 425.7l2.5 2.5l-2.5 2.5l-2.5 -2.5zM217 426.1l2.5 2.5l-2.5 2.5l-2.5 -2.5zM218 427.3l2.5 2.5l-2.5 2.5l-2.5 -2.5zM219 428.1l2.5 2.5l-2.5 2.5l-2.5 -2.5zM220 429.3l2.5 2.5l-2.5 2.5l-2.5 -2.5zM221 430.1l2.5 2.5l-2.5 2.5l-2.5 -2.5zM222 430.4l2.5 2.5l-2.5 2.5l-2.5 -2.5zM223 431.8l2.5 2.5l-2.5 2.5l-2.5 -2.5zM224 432.8l2.5 2.5l-2.5 2.5l-2.5 -2.5zM225 434l2.5 2.5l-2.5 2.5l-2.5 -2.5zM226 434.3l2.5 2.5l-2.5 2.5l-2.5 -2.5zM227 435.2l2.5 2.5l-2.5 2.5l-2.5 -2.5zM228 436.2l2.5 2.5l-2.5 2.5l-2.5 -2.5zM229 437.5l2.5 2.5l-2.5 2.5l-2.5 -2.5zM230 438.1l2.5 2.5l-2.5 2.5l-2.5 -2.5zM231 439.1l2.5 2.5l-2.5 2.5l-2.5 -2.5zM232 440.1l2.5 2.5l-2.5 2.5l-2.5 -2.5zM233 440.7l2.5 2.5l-2.5 2.5l-2.5 -2.5zM234 442.1l2.5 2.5l-2.5 2.5l-2.5 -2.5zM235 442.3l2.5 2.5l-2.5 2.5l-2.5 -2.5zM236 444.2l2.5 2.5l-2.5 2.5l-2.5 -2.5zM237 444.5l2.5 2.5l-2.5 2.5l-2.5 -2.5zM238 445.4l2.5 2.5l-2.5 2.5l-2.5 -2.5zM239 446.4l2.5 2.5l-2.5 2.5l-2.5 -2.5zM240 447.2l2.5 2.5l-2.5 2.5l-2.5 -2.5zM241 448.2l2.5 2.5l-2.5 2.5l-2.5 -2.5zM242 449.2l2.5 2.5l-2.5 2.5l-2.5 -2.5zM243 450.1l2.5 2.5l-2.5 2.5l-2.5 -2.5zM244 451.3l2.5 2.5l-2.5 2.5l-2.5 -2.5zM245 452.4l2.5 2.5l-2.5 2.5l-2.5 -2.5zM246 453.1l2.5 2.5l-2.5 2.5l-2.5 -2.5zM247 454.3l2.5 2.5l-2.5 2.5l-2.5 -2.5zM248 455l2.5 2.5l-2.5 2.5l-2.5 -2.5zM249 456.3l2.5 2.5l-2.5 2.5l-2.5 -2.5zM250 457.1l2.5 2.5l-2.5 2.5l-2.5 -2.5zM251 457.9l2.5 2.5l-2.5 2.5l-2.5 -2.5zM252 459.2l2.5 2.5l-2.5 2.5l-2.5 -2.5zM253 460.1l2.5 2.5l-2.5 2.5l-2.5 -2.5zM254 461l2.5 2.5l-2.5 2.5l-2.5 -2.5zM255 462.1l2.5 2.5l-2.5 2.5l-2.5 -2.5zM256 463.3l2.5 2.5l-2.5 2.5l-2.5 -2.5zM257 463.8l2.5 2.5l-2.5 2.5l-2.5 -2.5zM258 465l2.5 2.5l-2.5 2.5l-2.5 -2.5zM259 466.3l2.5 2.5l-2.5 2.5l-2.5 -2.5zM260 467.2l2.5 2.5l-2.5 2.5l-2.5 -2.5zM261 468.3l2.5 2.5l-2.5 2.5l-2.5 -2.5zM262 469.6l2.5 2.5l-2.5 2.5l-2.5 -2.5zM263 470l2.5 2.5l-2.5 2.5l-2.5 -2.5zM264 471.3l2.5 2.5l-2.5 2.5l-2.5 -2.5zM265 472.2l2.5 2.5l-2.5 2.5l-2.5 -2.5zM266 473.5l2.5 2.5l-2.5 2.5l-2.5 -2.5zM267 474.4l2.5 2.5l-2.5 2.5l-2.5 -2.5zM268 475.1l2.5 2.5l-2.5 2.5l-2.5 -2.5zM269 476.5l2.5 2.5l-2.5 2.5l-2.5 -2.5zM270 477.4l2.5 2.5l-2.5 2.5l-2.5 -2.5zM271 478.4l2.5 2.5l-2.5 2.5l-2.5 -2.5zM272 479.5l2.5 2.5l-2.5 2.5l-2.5 -2.5zM273 480.6l2.5 2.5l-2.5 2.5l-2.5 -2.5zM274 481.4l2.5 2.5l-2.5 2.5l-2.5 -2.5zM275 482.5l2.5 2.5l-2.5 2.5l-2.5 -2.5zM276 483.8l2.5 2.5l-2.5 2.5l-2.5 -2.5zM277 484.5l2.5 2.5l-2.5 2.5l-2.5 -2.5zM278 485.6l2.5 2.5l-2.5 2.5l-2.5 -2.5zM279 486.9l2.5 2.5l-2.5 2.5l-2.5 -2.5zM280.1 487.7l2.5 2.5l-2.5 2.5l-2.5 -2.5zM281.1 488.8l2.5 2.5l-2.5 2.5l-2.5 -2.5zM282.1 490l2.5 2.5l-2.5 2.5l-2.5 -2.5zM283.1 490.8l2.5 2.5l-2.5 2.5l-2.5 -2.5zM284.1 492l2.5 2.5l-2.5 2.5l-2.5 -2.5zM285.1 492.9l2.5 2.5l-2.5 2.5l-2.5 -2.5zM286.1 494.1l2.5 2.5l-2.5 2.5l-2.5 -2.5zM287.1 495.2l2.5 2.5l-2.5 2.5l-2.5 -2.5zM288.1 496.2l2.5 2.5l-2.5 2.5l-2.5 -2.5zM289.1 497.3l2.5 2.5l-2.5 2.5l-2.5 -2.5zM290.1 498.4l2.5 2.5l-2.5 2.5l-2.5 -2.5zM291.1 499.5l2.5 2.5l-2.5 2.5l-2.5 -2.5zM292.1 500.3l2.5 2.5l-2.5 2.5l-2.5 -2.5zM293.1 501.5l2.5 2.5l-2.5 2.5l-2.5 -2.5zM294.1 502.8l2.5 2.5l-2.5 2.5l-2.5 -2.5zM295.1 503.6l2.5 2.5l-2.5 2.5l-2.5 -2.5zM296.1 504.6l2.5 2.5l-2.5 2.5l-2.5 -2.5zM297.1 505.7l2.5 2.5l-2.5 2.5l-2.5 -2.5zM298.1 506.7l2.5 2.5l-2.5 2.5l-2.5 -2.5zM299.1 507.9l2.5 2.5l-2.5 2.5l-2.5 -2.5zM300.1 508.9l2.5 2.5l-2.5 2.5l-2.5 -2.5zM301.1 509.9l2.5 2.5l-2.5 2.5l-2.5 -2.5zM302.1 511.1l2.5 2.5l-2.5 2.5l-2.5 -2.5zM303.1 512.3l2.5 2.5l-2.5 2.5l-2.5 -2.5zM304.1 512.9l2.5 2.5l-2.5 2.5l-2.5 -2.5zM305.1 514.1l2.5 2.5l-2.5 2.5l-2.5 -2.5zM306.1 515.2l2.5 2.5l-2.5 2.5l-2.5 -2.5zM307.1 516.1l2.5 2.5l-2.5 2.5l-2.5 -2.5zM308.1 517.5l2.5 2.5l-2.5 2.5l-2.5 -2.5zM309.1 518.7l2.5 2.5l-2.5 2.5l-2.5 -2.5zM310.1 519.6l2.5 2.5l-2.5 2.5l-2.5 -2.5zM311.1 520.7l2.5 2.5l-2.5 2.5l-2.5 -2.5zM312.1 521.3l2.5 2.5l-2.5 2.5l-2.5 -2.5zM313.1 522.5l2.5 2.5l-2.5 2.5l-2.5 -2.5zM314.1 523.5l2.5 2.5l-2.5 2.5l-2.5 -2.5zM315.1 524.8l2.5 2.5l-2.5 2.5l-2.5 -2.5zM316.1 525.7l2.5 2.5l-2.5 2.5l-2.5 -2.5zM317.1 526.8l2.5 2.5l-2.5 2.5l-2.5 -2.5zM318.1 527.9l2.5 2.5l-2.5 2.5l-2.5 -2.5zM319.1 529l2.5 2.5l-2.5 2.5l-2.5 -2.5zM320.1 530.2l2.5 2.5l-2.5 2.5l-2.5 -2.5zM321.1 531.2l2.5 2.5l-2.5 2.5l-2.5 -2.5zM322.1 532.1l2.5 2.5l-2.5 2.5l-2.5 -2.5zM323.1 532.8l2.5 2.5l-2.5 2.5l-2.5 -2.5zM324.1 534.3l2.5 2.5l-2.5 2.5l-2.5 -2.5zM325.1 535.1l2.5 2.5l-2.5 2.5l-2.5 -2.5zM326.1 535.9l2.5 2.5l-2.5 2.5l-2.5 -2.5zM327.1 537.2l2.5 2.5l-2.5 2.5l-2.5 -2.5zM328.1 538.1l2.5 2.5l-2.5 2.5l-2.5 -2.5zM329.1 539.2l2.5 2.5l-2.5 2.5l-2.5 -2.5zM330.1 540.3l2.5 2.5l-2.5 2.5l-2.5 -2.5zM331.1 541.1l2.5 2.5l-2.5 2.5l-2.5 -2.5zM332.1 542.3l2.5 2.5l-2.5 2.5l-2.5 -2.5zM333.1 543.4l2.5 2.5l-2.5 2.5l-2.5 -2.5zM334.1 544.2l2.5 2.5l-2.5 2.5l-2.5 -2.5zM335.1 545.4l2.5 2.5l-2.5 2.5l-2.5 -2.5zM336.1 546.3l2.5 2.5l-2.5 2.5l-2.5 -2.5zM337.1 547.3l2.5 2.5l-2.5 2.5l-2.5 -2.5zM338.1 548.4l2.5 2.5l-2.5 2.5l-2.5 -2.5zM339.1 549.3l2.5 2.5l-2.5 2.5l-2.5 -2.5zM340.1 550.2l2.5 2.5l-2.5 2.5l-2.5 -2.5zM341.1 551.3l2.5 2.5l-2.5 2.5l-2.5 -2.5zM342.1 552.3l2.5 2.5l-2.5 2.5l-2.5 -2.5zM343.1 553.2l2.5 2.5l-2.5 2.5l-2.5 -2.5zM344.1 554.2l2.5 2.5l-2.5 2.5l-2.5 -2.5zM345.1 555.2l2.5 2.5l-2.5 2.5l-2.5 -2.5zM346.1 556.2l2.5 2.5l-2.5 2.5l-2.5 -2.5zM347.1 557.2l2.5 2.5l-2.5 2.5l-2.5 -2.5zM348.1 558.1l2.5 2.5l-2.5 2.5l-2.5 -2.5zM349.1 559.2l2.5 2.5l-2.5 2.5l-2.5 -2.5zM350.1 560.2l2.5 2.5l-2.5 2.5l-2.5 -2.5zM351.1 560.9l2.5 2.5l-2.5 2.5l-2.5 -2.5zM352.1 562.1l2.5 2.5l-2.5 2.5l-2.5 -2.5zM353.1 563.1l2.5 2.5l-2.5 2.5l-2.5 -2.5zM354.1 563.9l2.5 2.5l-2.5 2.5l-2.5 -2.5zM355.1 565l2.5 2.5l-2.5 2.5l-2.5 -2.5zM356.1 565.7l2.5 2.5l-2.5 2.5l-2.5 -2.5zM357.1 566.8l2.5 2.5l-2.5 2.5l-2.5 -2.5zM358.1 567.8l2.5 2.5l-2.5 2.5l-2.5 -2.5zM359.2 568.7l2.5 2.5l-2.5 2.5l-2.5 -2.5zM360.2 569.4l2.5 2.5l-2.5 2.5l-2.5 -2.5zM361.2 570.5l2.5 2.5l-2.5 2.5l-2.5 -2.5zM362.2 571.3l2.5 2.5l-2.5 2.5l-2.5 -2.5zM363.2 572.3l2.5 2.5l-2.5 2.5l-2.5 -2.5zM364.2 573.3l2.5 2.5l-2.5 2.5l-2.5 -2.5zM365.2 574.2l2.5 2.5l-2.5 2.5l-2.5 -2.5zM366.2 575.1l2.5 2.5l-2.5 2.5l-2.5 -2.5zM367.2 575.8l2.5 2.5l-2.5 2.5l-2.5 -2.5zM368.2 576.8l2.5 2.5l-2.5 2.5l-2.5 -2.5zM369.2 577.7l2.5 2.5l-2.5 2.5l-2.5 -2.5zM370.2 578.6l2.5 2.5l-2.5 2.5l-2.5 -2.5zM371.2 579.6l2.5 2.5l-2.5 2.5l-2.5 -2.5zM372.2 580.3l2.5 2.5l-2.5 2.5l-2.5 -2.5zM373.2 581.2l2.5 2.5l-2.5 2.5l-2.5 -2.5zM374.2 582.2l2.5 2.5l-2.5 2.5l-2.5 -2.5zM375.2 582.9l2.5 2.5l-2.5 2.5l-2.5 -2.5zM376.2 583.8l2.5 2.5l-2.5 2.5l-2.5 -2.5zM377.2 584.6l2.5 2.5l-2.5 2.5l-2.5 -2.5zM378.2 585.5l2.5 2.5l-2.5 2.5l-2.5 -2.5zM379.2 586.5l2.5 2.5l-2.5 2.5l-2.5 -2.5zM380.2 587.2l2.5 2.5l-2.5 2.5l-2.5 -2.5zM381.2 588l2.5 2.5l-2.5 2.5l-2.5 -2.5zM382.2 588.8l2.5 2.5l-2.5 2.5l-2.5 -2.5zM383.2 589.7l2.5 2.5l-2.5 2.5l-2.5 -2.5zM384.2 590.6l2.5 2.5l-2.5 2.5l-2.5 -2.5zM385.2 591.4l2.5 2.5l-2.5 2.5l-2.5 -2.5zM386.2 592l2.5 2.5l-2.5 2.5l-2.5 -2.5zM387.2 592.9l2.5 2.5l-2.5 2.5l-2.5 -2.5zM388.2 593.8l2.5 2.5l-2.5 2.5l-2.5 -2.5zM389.2 594.4l2.5 2.5l-2.5 2.5l-2.5 -2.5zM390.2 595.3l2.5 2.5l-2.5 2.5l-2.5 -2.5zM391.2 596l2.5 2.5l-2.5 2.5l-2.5 -2.5zM392.2 596.8l2.5 2.5l-2.5 2.5l-2.5 -2.5zM393.2 597.6l2.5 2.5l-2.5 2.5l-2.5 -2.5zM394.2 598.3l2.5 2.5l-2.5 2.5l-2.5 -2.5zM395.2 599.2l2.5 2.5l-2.5 2.5l-2.5 -2.5zM396.2 599.9l2.5 2.5l-2.5 2.5l-2.5 -2.5zM397.2 600.5l2.5 2.5l-2.5 2.5l-2.5 -2.5zM398.2 601.3l2.5 2.5l-2.5 2.5l-2.5 -2.5zM399.2 602.1l2.5 2.5l-2.5 2.5l-2.5 -2.5zM400.2 602.8l2.5 2.5l-2.5 2.5l-2.5 -2.5zM401.2 603.6l2.5 2.5l-2.5 2.5l-2.5 -2.5zM402.2 604.3l2.5 2.5l-2.5 2.5l-2.5 -2.5zM403.2 605.1l2.5 2.5l-2.5 2.5l-2.5 -2.5zM404.2 605.7l2.5 2.5l-2.5 2.5l-2.5 -2.5zM405.2 606.4l2.5 2.5l-2.5 2.5l-2.5 -2.5zM406.2 607.1l2.5 2.5l-2.5 2.5l-2.5 -2.5zM407.2 607.8l2.5 2.5l-2.5 2.5l-2.5 -2.5zM408.2 608.5l2.5 2.5l-2.5 2.5l-2.5 -2.5zM409.2 609.2l2.5 2.5l-2.5 2.5l-2.5 -2.5zM410.2 609.9l2.5 2.5l-2.5 2.5l-2.5 -2.5zM411.2 610.7l2.5 2.5l-2.5 2.5l-2.5 -2.5zM412.2 611.2l2.5 2.5l-2.5 2.5l-2.5 -2.5zM413.2 611.8l2.5 2.5l-2.5 2.5l-2.5 -2.5zM414.2 612.5l2.5 2.5l-2.5 2.5l-2.5 -2.5zM415.2 613.1l2.5 2.5l-2.5 2.5l-2.5 -2.5zM416.2 613.9l2.5 2.5l-2.5 2.5l-2.5 -2.5zM417.2 614.5l2.5 2.5l-2.5 2.5l-2.5 -2.5zM418.2 615.2l2.5 2.5l-2.5 2.5l-2.5 -2.5zM419.2 615.7l2.5 2.5l-2.5 2.5l-2.5 -2.5zM420.2 616.2l2.5 2.5l-2.5 2.5l-2.5 -2.5zM421.2 617l2.5 2.5l-2.5 2.5l-2.5 -2.5zM422.2 617.6l2.5 2.5l-2.5 2.5l-2.5 -2.5zM423.2 618.2l2.5 2.5l-2.5 2.5l-2.5 -2.5zM424.2 618.7l2.5 2.5l-2.5 2.5l-2.5 -2.5zM425.2 619.2l2.5 2.5l-2.5 2.5l-2.5 -2.5zM426.2 619.8l2.5 2.5l-2.5 2.5l-2.5 -2.5zM427.2 620.2l2.5 2.5l-2.5 2.5l-2.5 -2.5zM428.2 621l2.5 2.5l-2.5 2.5l-2.5 -2.5zM429.2 621.4l2.5 2.5l-2.5 2.5l-2.5 -2.5zM430.2 622l2.5 2.5l-2.5 2.5l-2.5 -2.5zM431.2 622.6l2.5 2.5l-2.5 2.5l-2.5 -2.5zM432.2 623l2.5 2.5l-2.5 2.5l-2.5 -2.5zM433.2 623.7l2.5 2.5l-2.5 2.5l-2.5 -2.5zM434.2 624.1l2.5 2.5l-2.5 2.5l-2.5 -2.5zM435.2 624.8l2.5 2.5l-2.5 2.5l-2.5 -2.5zM436.2 625.2l2.5 2.5l-2.5 2.5l-2.5 -2.5zM437.2 625.7l2.5 2.5l-2.5 2.5l-2.5 -2.5zM438.3 626.1l2.5 2.5l-2.5 2.5l-2.5 -2.5zM439.3 626.6l2.5 2.5l-2.5 2.5l-2.5 -2.5zM440.3 627l2.5 2.5l-2.5 2.5l-2.5 -2.5zM441.3 627.4l2.5 2.5l-2.5 2.5l-2.5 -2.5zM442.3 628l2.5 2.5l-2.5 2.5l-2.5 -2.5zM443.3 628.4l2.5 2.5l-2.5 2.5l-2.5 -2.5zM444.3 628.8l2.5 2.5l-2.5 2.5l-2.5 -2.5zM445.3 629.3l2.5 2.5l-2.5 2.5l-2.5 -2.5zM446.3 629.6l2.5 2.5l-2.5 2.5l-2.5 -2.5zM447.3 630.1l2.5 2.5l-2.5 2.5l-2.5 -2.5zM448.3 630.5l2.5 2.5l-2.5 2.5l-2.5 -2.5zM449.3 630.9l2.5 2.5l-2.5 2.5l-2.5 -2.5zM450.3 631.4l2.5 2.5l-2.5 2.5l-2.5 -2.5zM451.3 632l2.5 2.5l-2.5 2.5l-2.5 -2.5zM452.3 632.1l2.5 2.5l-2.5 2.5l-2.5 -2.5zM453.3 632.6l2.5 2.5l-2.5 2.5l-2.5 -2.5zM454.3 632.9l2.5 2.5l-2.5 2.5l-2.5 -2.5zM455.3 633.3l2.5 2.5l-2.5 2.5l-2.5 -2.5zM456.3 633.7l2.5 2.5l-2.5 2.5l-2.5 -2.5zM457.3 633.9l2.5 2.5l-2.5 2.5l-2.5 -2.5zM458.3 634.3l2.5 2.5l-2.5 2.5l-2.5 -2.5zM459.3 634.6l2.5 2.5l-2.5 2.5l-2.5 -2.5zM460.3 634.9l2.5 2.5l-2.5 2.5l-2.5 -2.5zM461.3 635.3l2.5 2.5l-2.5 2.5l-2.5 -2.5zM462.3 635.5l2.5 2.5l-2.5 2.5l-2.5 -2.5zM463.3 635.9l2.5 2.5l-2.5 2.5l-2.5 -2.5zM464.3 636l2.5 2.5l-2.5 2.5l-2.5 -2.5zM465.3 636.4l2.5 2.5l-2.5 2.5l-2.5 -2.5zM466.3 636.7l2.5 2.5l-2.5 2.5l-2.5 -2.5zM467.3 636.8l2.5 2.5l-2.5 2.5l-2.5 -2.5zM468.3 637.2l2.5 2.5l-2.5 2.5l-2.5 -2.5zM469.3 637.5l2.5 2.5l-2.5 2.5l-2.5 -2.5zM470.3 637.6l2.5 2.5l-2.5 2.5l-2.5 -2.5zM471.3 637.8l2.5 2.5l-2.5 2.5l-2.5 -2.5zM472.3 638l2.5 2.5l-2.5 2.5l-2.5 -2.5zM473.3 638.3l2.5 2.5l-2.5 2.5l-2.5 -2.5zM474.3 638.4l2.5 2.5l-2.5 2.5l-2.5 -2.5zM475.3 638.6l2.5 2.5l-2.5 2.5l-2.5 -2.5zM476.3 638.8l2.5 2.5l-2.5 2.5l-2.5 -2.5zM477.3 638.9l2.5 2.5l-2.5 2.5l-2.5 -2.5z" fill="#0000ff"/>
<path d="M82.8 367.8l2.1 3.6h-4.3zM83.8 366.7l2.1 3.6h-4.3zM84.8 367.2l2.1 3.6h-4.3zM85.8 367.4l2.1 3.6h-4.3zM86.8 368.3l2.1 3.6h-4.3zM87.8 367.4l2.1 3.6h-4.3zM88.8 368.9l2.1 3.6h-4.3zM89.8 369l2.1 3.6h-4.3zM90.8 368.5l2.1 3.6h-4.3zM91.8 367.5l2.1 3.6h-4.3zM92.8 367.7l2.1 3.6h-4.3zM93.8 368.5l2.1 3.6h-4.3zM94.8 369l2.1 3.6h-4.3zM95.8 369.4l2.1 3.6h-4.3zM96.8 369.9l2.1 3.6h-4.3zM97.8 369.6l2.1 3.6h-4.3zM98.8 369.6l2.1 3.6h-4.3zM99.8 370l2.1 3.6h-4.3zM100.8 368.9l2.1 3.6h-4.3zM101.8 370.8l2.1 3.6h-4.3zM102.8 369.6l2.1 3.6h-4.3zM103.8 369.6l2.1 3.6h-4.3zM104.8 370.5l2.1 3.6h-4.3zM105.8 370.8l2.1 3.6h-4.3zM106.8 370.6l2.1 3.6h-4.3zM107.8 371.4l2.1 3.6h-4.3zM108.8 371.8l2.1 3.6h-4.3zM109.8 372.4l2.1 3.6h-4.3zM110.8 372.5l2.1 3.6h-4.3zM111.8 372.3l2.1 3.6h-4.3zM112.8 372.9l2.1 3.6h-4.3zM113.8 373.8l2.1 3.6h-4.3zM114.8 373.2l2.1 3.6h-4.3zM115.8 373.6l2.1 3.6h-4.3zM116.8 372.7l2.1 3.6h-4.3zM117.8 374.4l2.1 3.6h-4.3zM118.8 375.6l2.1 3.6h-4.3zM119.8 375.2l2.1 3.6h-4.3zM120.8 375l2.1 3.6h-4.3zM121.8 376.1l2.1 3.6h-4.3zM122.9 376.4l2.1 3.6h-4.3zM123.9 376.8l2.1 3.6h-4.3zM124.9 375.7l2.1 3.6h-4.3zM125.9 376.1l2.1 3.6h-4.3zM126.9 377.4l2.1 3.6h-4.3zM127.9 377.7l2.1 3.6h-4.3zM128.9 378l2.1 3.6h-4.3zM129.9 377.3l2.1 3.6h-4.3zM130.9 378.9l2.1 3.6h-4.3zM131.9 379.9l2.1 3.6h-4.3zM132.9 379.8l2.1 3.6h-4.3zM133.9 381l2.1 3.6h-4.3zM134.9 380.2l2.1 3.6h-4.3zM135.9 380.4l2.1 3.6h-4.3zM136.9 381.8l2.1 3.6h-4.3zM137.9 381.7l2.1 3.6h-4.3zM138.9 380.3l2.1 3.6h-4.3zM139.9 381.1l2.1 3.6h-4.3zM140.9 382.6l2.1 3.6h-4.3zM141.9 382.6l2.1 3.6h-4.3zM142.9 384.3l2.1 3.6h-4.3zM143.9 384.6l2.1 3.6h-4.3zM144.9 384.9l2.1 3.6h-4.3zM145.9 384.5l2.1 3.6h-4.3zM146.9 385l2.1 3.6h-4.3zM147.9 386l2.1 3.6h-4.3zM148.9 385.9l2.1 3.6h-4.3zM149.9 386.9l2.1 3.6h-4.3zM150.9 387.2l2.1 3.6h-4.3zM151.9 388l2.1 3.6h-4.3zM152.9 388.1l2.1 3.6h-4.3zM153.9 388.2l2.1 3.6h-4.3zM154.9 387.5l2.1 3.6h-4.3zM155.9 388.9l2.1 3.6h-4.3zM156.9 389.4l2.1 3.6h-4.3zM157.9 391.1l2.1 3.6h-4.3zM158.9 390.5l2.1 3.6h-4.3zM159.9 391.5l2.1 3.6h-4.3zM160.9 392.7l2.1 3.6h-4.3zM161.9 393.4l2.1 3.6h-4.3zM162.9 394.1l2.1 3.6h-4.3zM163.9 394.4l2.1 3.6h-4.3zM164.9 395.6l2.1 3.6h-4.3zM165.9 395.1l2.1 3.6h-4.3zM166.9 396.6l2.1 3.6h-4.3zM167.9 395.9l2.1 3.6h-4.3zM168.9 397l2.1 3.6h-4.3zM169.9 398.1l2.1 3.6h-4.3zM170.9 398.9l2.1 3.6h-4.3zM171.9 399.1l2.1 3.6h-4.3zM172.9 399.5l2.1 3.6h-4.3zM173.9 399.9l2.1 3.6h-4.3zM174.9 400l2.1 3.6h-4.3zM175.9 400.9l2.1 3.6h-4.3zM176.9 403.5l2.1 3.6h-4.3zM177.9 402.4l2.1 3.6h-4.3zM178.9 403.2l2.1 3.6h-4.3zM179.9 403.9l2.1 3.6h-4.3zM180.9 405.4l2.1 3.6h-4.3zM181.9 406.1l2.1 3.6h-4.3zM182.9 406.7l2.1 3.6h-4.3zM183.9 407.1l2.1 3.6h-4.3zM184.9 408.5l2.1 3.6h-4.3zM185.9 408.5l2.1 3.6h-4.3zM186.9 410.3l2.1 3.6h-4.3zM187.9 411.7l2.1 3.6h-4.3zM188.9 411.2l2.1 3.6h-4.3zM189.9 412.6l2.1 3.6h-4.3zM190.9 413l2.1 3.6h-4.3zM191.9 413.9l2.1 3.6h-4.3zM192.9 414.2l2.1 3.6h-4.3zM193.9 415.8l2.1 3.6h-4.3zM194.9 416.6l2.1 3.6h-4.3zM195.9 418.1l2.1 3.6h-4.3zM196.9 419.6l2.1 3.6h-4.3zM197.9 418.5l2.1 3.6h-4.3zM198.9 420.6l2.1 3.6h-4.3zM199.9 420.4l2.1 3.6h-4.3zM200.9 421.4l2.1 3.6h-4.3zM202 421.9l2.1 3.6h-4.3zM203 423.7l2.1 3.6h-4.3zM204 425l2.1 3.6h-4.3zM205 425.2l2.1 3.6h-4.3zM206 426.2l2.1 3.6h-4.3zM207 426.6l2.1 3.6h-4.3zM208 427.8l2.1 3.6h-4.3zM209 428.1l2.1 3.6h-4.3zM210 429.7l2.1 3.6h-4.3zM211 429.5l2.1 3.6h-4.3zM212 432.9l2.1 3.6h-4.3zM213 433.2l2.1 3.6h-4.3zM214 433.1l2.1 3.6h-4.3zM215 434.1l2.1 3.6h-4.3zM216 435.1l2.1 3.6h-4.3zM217 436.3l2.1 3.6h-4.3zM218 437.4l2.1 3.6h-4.3zM219 439.2l2.1 3.6h-4.3zM220 438.9l2.1 3.6h-4.3zM221 439l2.1 3.6h-4.3zM222 441.2l2.1 3.6h-4.3zM223 442.2l2.1 3.6h-4.3zM224 442.5l2.1 3.6h-4.3zM225 444.4l2.1 3.6h-4.3zM226 444.8l2.1 3.6h-4.3zM227 445.5l2.1 3.6h-4.3zM228 446.8l2.1 3.6h-4.3zM229 447.2l2.1 3.6h-4.3zM230 448.6l2.1 3.6h-4.3zM231 450.8l2.1 3.6h-4.3zM232 451.5l2.1 3.6h-4.3zM233 452.2l2.1 3.6h-4.3zM234 452.9l2.1 3.6h-4.3zM235 454l2.1 3.6h-4.3zM236 454.2l2.1 3.6h-4.3zM237 455.9l2.1 3.6h-4.3zM238 456.4l2.1 3.6h-4.3zM239 457.5l2.1 3.6h-4.3zM240 459.7l2.1 3.6h-4.3zM241 459.4l2.1 3.6h-4.3zM242 460.9l2.1 3.6h-4.3zM243 461.9l2.1 3.6h-4.3zM244 463.4l2.1 3.6h-4.3zM245 463.8l2.1 3.6h-4.3zM246 465.2l2.1 3.6h-4.3zM247 466.1l2.1 3.6h-4.3zM248 466.8l2.1 3.6h-4.3zM249 467.6l2.1 3.6h-4.3zM250 468.4l2.1 3.6h-4.3zM251 470.6l2.1 3.6h-4.3zM252 470.6l2.1 3.6h-4.3zM253 472.7l2.1 3.6h-4.3zM254 474l2.1 3.6h-4.3zM255 473.8l2.1 3.6h-4.3zM256 474.6l2.1 3.6h-4.3zM257 475.6l2.1 3.6h-4.3zM258 476.9l2.1 3.6h-4.3zM259 479l2.1 3.6h-4.3zM260 479l2.1 3.6h-4.3zM261 480l2.1 3.6h-4.3zM262 480.8l2.1 3.6h-4.3zM263 482.4l2.1 3.6h-4.3zM264 483.5l2.1 3.6h-4.3zM265 484.9l2.1 3.6h-4.3zM266 485.6l2.1 3.6h-4.3zM267 486.5l2.1 3.6h-4.3zM268 487.5l2.1 3.6h-4.3zM269 489.5l2.1 3.6h-4.3zM270 490.1l2.1 3.6h-4.3zM271 490.9l2.1 3.6h-4.3zM272 491.6l2.1 3.6h-4.3zM273 492.7l2.1 3.6h-4.3zM274 493.8l2.1 3.6h-4.3zM275 494.8l2.1 3.6h-4.3zM276 496l2.1 3.6h-4.3zM277 496.7l2.1 3.6h-4.3zM278 498.5l2.1 3.6h-4.3zM279 498.7l2.1 3.6h-4.3zM280.1 500.2l2.1 3.6h-4.3zM281.1 501.3l2.1 3.6h-4.3zM282.1 502.4l2.1 3.6h-4.3zM283.1 503.5l2.1 3.6h-4.3zM284.1 504.3l2.1 3.6h-4.3zM285.1 505.3l2.1 3.6h-4.3zM286.1 506.7l2.1 3.6h-4.3zM287.1 507.7l2.1 3.6h-4.3zM288.1 508.3l2.1 3.6h-4.3zM289.1 509.6l2.1 3.6h-4.3zM290.1 510l2.1 3.6h-4.3zM291.1 511.5l2.1 3.6h-4.3zM292.1 511.8l2.1 3.6h-4.3zM293.1 513.8l2.1 3.6h-4.3zM294.1 514.3l2.1 3.6h-4.3zM295.1 515.8l2.1 3.6h-4.3zM296.1 516.7l2.1 3.6h-4.3zM297.1 517.4l2.1 3.6h-4.3zM298.1 518.9l2.1 3.6h-4.3zM299.1 520.1l2.1 3.6h-4.3zM300.1 520.4l2.1 3.6h-4.3zM301.1 522.2l2.1 3.6h-4.3zM302.1 522.8l2.1 3.6h-4.3zM303.1 523.4l2.1 3.6h-4.3zM304.1 524.6l2.1 3.6h-4.3zM305.1 525.8l2.1 3.6h-4.3zM306.1 527l2.1 3.6h-4.3zM307.1 527.5l2.1 3.6h-4.3zM308.1 528.6l2.1 3.6h-4.3zM309.1 529.9l2.1 3.6h-4.3zM310.1 530.9l2.1 3.6h-4.3zM311.1 532.4l2.1 3.6h-4.3zM312.1 533l2.1 3.6h-4.3zM313.1 534l2.1 3.6h-4.3zM314.1 534.5l2.1 3.6h-4.3zM315.1 535.5l2.1 3.6h-4.3zM316.1 536.4l2.1 3.6h-4.3zM317.1 537.7l2.1 3.6h-4.3zM318.1 538.9l2.1 3.6h-4.3zM319.1 540.2l2.1 3.6h-4.3zM320.1 541l2.1 3.6h-4.3zM321.1 541.4l2.1 3.6h-4.3zM322.1 542.7l2.1 3.6h-4.3zM323.1 544.3l2.1 3.6h-4.3zM324.1 544.7l2.1 3.6h-4.3zM325.1 545.8l2.1 3.6h-4.3zM326.1 546.2l2.1 3.6h-4.3zM327.1 547.1l2.1 3.6h-4.3zM328.1 548.4l2.1 3.6h-4.3zM329.1 549.4l2.1 3.6h-4.3zM330.1 550.5l2.1 3.6h-4.3zM331.1 551.3l2.1 3.6h-4.3zM332.1 552.1l2.1 3.6h-4.3zM333.1 553.6l2.1 3.6h-4.3zM334.1 554.3l2.1 3.6h-4.3zM335.1 554.9l2.1 3.6h-4.3zM336.1 556.3l2.1 3.6h-4.3zM337.1 557.1l2.1 3.6h-4.3zM338.1 557.9l2.1 3.6h-4.3zM339.1 558.9l2.1 3.6h-4.3zM340.1 559.9l2.1 3.6h-4.3zM341.1 560.4l2.1 3.6h-4.3zM342.1 561.8l2.1 3.6h-4.3zM343.1 562.6l2.1 3.6h-4.3zM344.1 563.6l2.1 3.6h-4.3zM345.1 564.3l2.1 3.6h-4.3zM346.1 565.2l2.1 3.6h-4.3zM347.1 566.4l2.1 3.6h-4.3zM348.1 566.6l2.1 3.6h-4.3zM349.1 568.2l2.1 3.6h-4.3zM350.1 569l2.1 3.6h-4.3zM351.1 569.5l2.1 3.6h-4.3zM352.1 570.6l2.1 3.6h-4.3zM353.1 571.4l2.1 3.6h-4.3zM354.1 572.3l2.1 3.6h-4.3zM355.1 573.1l2.1 3.6h-4.3zM356.1 573.9l2.1 3.6h-4.3zM357.1 575l2.1 3.6h-4.3zM358.1 575.8l2.1 3.6h-4.3zM359.2 576.8l2.1 3.6h-4.3zM360.2 577.6l2.1 3.6h-4.3zM361.2 578.3l2.1 3.6h-4.3zM362.2 579.5l2.1 3.6h-4.3zM363.2 580.3l2.1 3.6h-4.3zM364.2 580.7l2.1 3.6h-4.3zM365.2 581.7l2.1 3.6h-4.3zM366.2 582.5l2.1 3.6h-4.3zM367.2 583.4l2.1 3.6h-4.3zM368.2 584l2.1 3.6h-4.3zM369.2 585.2l2.1 3.6h-4.3zM370.2 585.7l2.1 3.6h-4.3zM371.2 586.9l2.1 3.6h-4.3zM372.2 587.3l2.1 3.6h-4.3zM373.2 588.5l2.1 3.6h-4.3zM374.2 589l2.1 3.6h-4.3zM375.2 589.9l2.1 3.6h-4.3zM376.2 590.6l2.1 3.6h-4.3zM377.2 591.4l2.1 3.6h-4.3zM378.2 591.9l2.1 3.6h-4.3zM379.2 592.8l2.1 3.6h-4.3zM380.2 593.5l2.1 3.6h-4.3zM381.2 594.3l2.1 3.6h-4.3zM382.2 595l2.1 3.6h-4.3zM383.2 596l2.1 3.6h-4.3zM384.2 596.6l2.1 3.6h-4.3zM385.2 597.3l2.1 3.6h-4.3zM386.2 597.8l2.1 3.6h-4.3zM387.2 598.9l2.1 3.6h-4.3zM388.2 599.4l2.1 3.6h-4.3zM389.2 600.1l2.1 3.6h-4.3zM390.2 601l2.1 3.6h-4.3zM391.2 601.6l2.1 3.6h-4.3zM392.2 602.3l2.1 3.6h-4.3zM393.2 603l2.1 3.6h-4.3zM394.2 603.4l2.1 3.6h-4.3zM395.2 604.5l2.1 3.6h-4.3zM396.2 605l2.1 3.6h-4.3zM397.2 605.9l2.1 3.6h-4.3zM398.2 606.4l2.1 3.6h-4.3zM399.2 607l2.1 3.6h-4.3zM400.2 607.9l2.1 3.6h-4.3zM401.2 608.4l2.1 3.6h-4.3zM402.2 609.2l2.1 3.6h-4.3zM403.2 609.8l2.1 3.6h-4.3zM404.2 610.4l2.1 3.6h-4.3zM405.2 611.1l2.1 3.6h-4.3zM406.2 611.7l2.1 3.6h-4.3zM407.2 612l2.1 3.6h-4.3zM408.2 612.8l2.1 3.6h-4.3zM409.2 613.6l2.1 3.6h-4.3zM410.2 614l2.1 3.6h-4.3zM411.2 614.5l2.1 3.6h-4.3zM412.2 615.2l2.1 3.6h-4.3zM413.2 615.9l2.1 3.6h-4.3zM414.2 616.2l2.1 3.6h-4.3zM415.2 616.9l2.1 3.6h-4.3zM416.2 617.4l2.1 3.6h-4.3zM417.2 618l2.1 3.6h-4.3zM418.2 618.7l2.1 3.6h-4.3zM419.2 619.1l2.1 3.6h-4.3zM420.2 619.7l2.1 3.6h-4.3zM421.2 620.3l2.1 3.6h-4.3zM422.2 620.8l2.1 3.6h-4.3zM423.2 621.4l2.1 3.6h-4.3zM424.2 621.9l2.1 3.6h-4.3zM425.2 622.2l2.1 3.6h-4.3zM426.2 622.5l2.1 3.6h-4.3zM427.2 623.5l2.1 3.6h-4.3zM428.2 624.1l2.1 3.6h-4.3zM429.2 624.3l2.1 3.6h-4.3zM430.2 624.8l2.1 3.6h-4.3zM431.2 625.4l2.1 3.6h-4.3zM432.2 625.6l2.1 3.6h-4.3zM433.2 626.2l2.1 3.6h-4.3zM434.2 626.6l2.1 3.6h-4.3zM435.2 627.2l2.1 3.6h-4.3zM436.2 627.6l2.1 3.6h-4.3zM437.2 628.3l2.1 3.6h-4.3zM438.3 628.3l2.1 3.6h-4.3zM439.3 628.8l2.1 3.6h-4.3zM440.3 629.1l2.1 3.6h-4.3zM441.3 629.7l2.1 3.6h-4.3zM442.3 630.1l2.1 3.6h-4.3zM443.3 630.5l2.1 3.6h-4.3zM444.3 631l2.1 3.6h-4.3zM445.3 631.1l2.1 3.6h-4.3zM446.3 631.4l2.1 3.6h-4.3zM447.3 632.3l2.1 3.6h-4.3zM448.3 632.4l2.1 3.6h-4.3zM449.3 632.6l2.1 3.6h-4.3zM450.3 633.3l2.1 3.6h-4.3zM451.3 633.5l2.1 3.6h-4.3zM452.3 633.6l2.1 3.6h-4.3zM453.3 634.2l2.1 3.6h-4.3zM454.3 634.6l2.1 3.6h-4.3zM455.3 634.9l2.1 3.6h-4.3zM456.3 635l2.1 3.6h-4.3zM457.3 635.6l2.1 3.6h-4.3zM458.3 635.5l2.1 3.6h-4.3zM459.3 635.9l2.1 3.6h-4.3zM460.3 636.3l2.1 3.6h-4.3zM461.3 636.3l2.1 3.6h-4.3zM462.3 636.9l2.1 3.6h-4.3zM463.3 637.1l2.1 3.6h-4.3zM464.3 637.4l2.1 3.6h-4.3zM465.3 637.6l2.1 3.6h-4.3zM466.3 638l2.1 3.6h-4.3zM467.3 637.8l2.1 3.6h-4.3zM468.3 638.1l2.1 3.6h-4.3zM469.3 638.3l2.1 3.6h-4.3zM470.3 638.6l2.1 3.6h-4.3zM471.3 638.9l2.1 3.6h-4.3zM472.3 638.9l2.1 3.6h-4.3zM473.3 639.3l2.1 3.6h-4.3zM474.3 639.5l2.1 3.6h-4.3zM475.3 639.6l2.1 3.6h-4.3zM476.3 639.5l2.1 3.6h-4.3zM477.3 639.9l2.1 3.6h-4.3z" fill="#008000"/>
<path d="M73.0 368.7 L74.5 369.3 L76.0 369.9 L77.5 370.5 L79.0 371.1 L80.5 371.7 L82.0 372.2 L83.5 372.8 L85.0 373.4 L86.5 374.0 L88.0 374.7 L89.5 375.3 L91.0 375.9 L92.5 376.5 L94.0 377.1 L95.5 377.7 L97.0 378.3 L98.6 378.9 L100.1 379.6 L101.6 380.2 L103.1 380.8 L104.6 381.5 L106.1 382.1 L107.6 382.7 L109.1 383.4 L110.6 384.0 L112.1 384.7 L113.6 385.3 L115.1 386.0 L116.6 386.6 L118.1 387.3 L119.6 387.9 L121.1 388.6 L122.6 389.2 L124.1 389.9 L125.6 390.6 L127.1 391.3 L128.6 391.9 L130.1 392.6 L131.6 393.3 L133.1 394.0 L134.6 394.7 L136.1 395.4 L137.6 396.1 L139.1 396.7 L140.6 397.4 L142.1 398.2 L143.6 398.9 L145.1 399.6 L146.6 400.3 L148.1 401.0 L149.7 401.7 L151.2 402.4 L152.7 403.2 L154.2 403.9 L155.7 404.6 L157.2 405.4 L158.7 406.1 L160.2 406.8 L161.7 407.6 L163.2 408.3 L164.7 409.1 L166.2 409.8 L167.7 410.6 L169.2 411.4 L170.7 412.1 L172.2 412.9 L173.7 413.7 L175.2 414.5 L176.7 415.2 L178.2 416.0 L179.7 416.8 L181.2 417.6 L182.7 418.4 L184.2 419.2 L185.7 420.0 L187.2 420.8 L188.7 421.6 L190.2 422.4 L191.7 423.3 L193.2 424.1 L194.7 424.9 L196.2 425.7 L197.7 426.6 L199.2 427.4 L200.8 428.2 L202.3 429.1 L203.8 429.9 L205.3 430.8 L206.8 431.7 L208.3 432.5 L209.8 433.4 L211.3 434.2 L212.8 435.1 L214.3 436.0 L215.8 436.9 L217.3 437.8 L218.8 438.7 L220.3 439.6 L221.8 440.5 L223.3 441.4 L224.8 442.3 L226.3 443.2 L227.8 444.1 L229.3 445.0 L230.8 445.9 L232.3 446.9 L233.8 447.8 L235.3 448.7 L236.8 449.7 L238.3 450.6 L239.8 451.6 L241.3 452.5 L242.8 453.5 L244.3 454.5 L245.8 455.4 L247.3 456.4 L248.8 457.4 L250.4 458.4 L251.9 459.4 L253.4 460.3 L254.9 461.3 L256.4 462.3 L257.9 463.3 L259.4 464.3 L260.9 465.4 L262.4 466.4 L263.9 467.4 L265.4 468.4 L266.9 469.4 L268.4 470.5 L269.9 471.5 L271.4 472.5 L272.9 473.6 L274.4 474.6 L275.9 475.7 L277.4 476.7 L278.9 477.8 L280.4 478.9 L281.9 479.9 L283.4 481.0 L284.9 482.1 L286.4 483.2 L287.9 484.2 L289.4 485.3 L290.9 486.4 L292.4 487.5 L293.9 488.6 L295.4 489.7 L296.9 490.8 L298.4 491.9 L299.9 493.0 L301.5 494.1 L303.0 495.3 L304.5 496.4 L306.0 497.5 L307.5 498.6 L309.0 499.8 L310.5 500.9 L312.0 502.1 L313.5 503.2 L315.0 504.4 L316.5 505.5 L318.0 506.7 L319.5 507.8 L321.0 509.0 L322.5 510.1 L324.0 511.3 L325.5 512.5 L327.0 513.7 L328.5 514.8 L330.0 516.0 L331.5 517.2 L333.0 518.4 L334.5 519.6 L336.0 520.8 L337.5 522.0 L339.0 523.2 L340.5 524.4 L342.0 525.6 L343.5 526.8 L345.0 528.0 L346.5 529.3 L348.0 530.5 L349.5 531.7 L351.1 532.9 L352.6 534.2 L354.1 535.4 L355.6 536.6 L357.1 537.9 L358.6 539.1 L360.1 540.4 L361.6 541.6 L363.1 542.9 L364.6 544.1 L366.1 545.4 L367.6 546.6 L369.1 547.9 L370.6 549.2 L372.1 550.4 L373.6 551.7 L375.1 553.0 L376.6 554.2 L378.1 555.5 L379.6 556.8 L381.1 558.1 L382.6 559.4 L384.1 560.6 L385.6 561.9 L387.1 563.2 L388.6 564.5 L390.1 565.8 L391.6 567.1 L393.1 568.4 L394.6 569.7 L396.1 571.0 L397.6 572.3 L399.1 573.6 L400.6 574.9 L402.2 576.2 L403.7 577.5 L405.2 578.8 L406.7 580.1 L408.2 581.4 L409.7 582.7 L411.2 584.0 L412.7 585.3 L414.2 586.6 L415.7 587.9 L417.2 589.2 L418.7 590.5 L420.2 591.8 L421.7 593.2 L423.2 594.5 L424.7 595.8 L426.2 597.1 L427.7 598.4 L429.2 599.7 L430.7 601.0 L432.2 602.4 L433.7 603.7 L435.2 605.0 L436.7 606.3 L438.2 607.6 L439.7 608.9 L441.2 610.2 L442.7 611.6 L444.2 612.9 L445.7 614.2 L447.2 615.5 L448.7 616.8 L450.2 618.1 L451.7 619.5 L453.3 620.8 L454.8 622.1 L456.3 623.4 L457.8 624.7 L459.3 626.0 L460.8 627.3 L462.3 628.6 L463.8 629.9 L465.3 631.2 L466.8 632.5 L468.3 633.9 L469.8 635.2 L471.3 636.5 L472.8 637.8 L474.3 639.1 L475.8 640.4 L477.3 641.7" stroke="#808080" stroke-width="2.3" stroke-dasharray="7.4 3.8" stroke-linecap="butt"/>
<path d="M82.8 368.9 L84.3 368.9 L85.8 368.9 L87.3 368.9 L88.8 368.9 L90.3 368.9 L91.8 368.9 L93.3 368.9 L94.8 368.9 L96.3 368.9 L97.8 368.9 L99.3 368.9 L100.8 368.9 L102.3 368.9 L103.8 368.9 L105.3 368.9 L106.8 368.9 L108.3 368.9 L109.8 368.9 L111.3 368.9 L112.8 368.9 L114.3 368.9 L115.8 368.9 L117.3 368.9 L118.8 368.9 L120.3 368.9 L121.8 368.9 L123.3 368.9 L124.8 368.9 L126.3 368.9 L127.8 368.9 L129.3 368.9 L130.8 368.9 L132.3 368.9 L133.8 368.9 L135.3 368.9 L136.8 368.9 L138.3 368.9 L139.8 368.9 L141.3 368.9 L142.8 368.9 L144.3 368.9 L145.8 368.9 L147.3 368.9 L148.8 368.9 L150.3 368.9 L151.8 368.9 L153.3 368.9 L154.8 368.9 L156.3 368.9 L157.8 368.9 L159.3 369.1 L160.8 369.2 L162.3 369.4 L163.8 369.5 L165.3 369.7 L166.8 369.9 L168.3 370.1 L169.8 370.3 L171.3 370.5 L172.8 370.7 L174.3 370.9 L175.8 371.1 L177.3 371.4 L178.8 371.6 L180.3 371.9 L181.8 372.2 L183.3 372.5 L184.8 372.7 L186.3 373.0 L187.8 373.4 L189.3 373.7 L190.8 374.0 L192.3 374.4 L193.8 374.7 L195.3 375.1 L196.8 375.5 L198.3 375.9 L199.8 376.3 L201.3 376.7 L202.8 377.1 L204.3 377.6 L205.8 378.0 L207.3 378.5 L208.8 379.0 L210.3 379.4 L211.8 379.9 L213.3 380.5 L214.8 381.0 L216.3 381.5 L217.8 382.1 L219.3 382.6 L220.8 383.2 L222.3 383.8 L223.8 384.4 L225.3 385.0 L226.8 385.7 L228.3 386.3 L229.8 387.0 L231.3 387.6 L232.8 388.3 L234.3 389.0 L235.8 389.7 L237.3 390.4 L238.8 391.2 L240.3 391.9 L241.8 392.7 L243.3 393.5 L244.8 394.2 L246.3 395.0 L247.8 395.9 L249.3 396.7 L250.8 397.5 L252.3 398.4 L253.8 399.3 L255.3 400.1 L256.8 401.0 L258.3 401.9 L259.8 402.9 L261.3 403.8 L262.8 404.8 L264.3 405.7 L265.8 406.7 L267.3 407.7 L268.8 408.7 L270.3 409.7 L271.8 410.7 L273.3 411.8 L274.8 412.9 L276.3 413.9 L277.8 415.0 L279.3 416.1 L280.8 417.2 L282.3 418.4 L283.8 419.5 L285.3 420.7 L286.8 421.9 L288.3 423.0 L289.8 424.3 L291.3 425.5 L292.8 426.7 L294.3 428.0 L295.8 429.2 L297.3 430.5 L298.8 431.8 L300.3 433.1 L301.8 434.4 L303.3 435.7 L304.8 437.1 L306.3 438.4 L307.8 439.8 L309.3 441.2 L310.8 442.6 L312.3 444.0 L313.8 445.4 L315.3 446.9 L316.8 448.3 L318.3 449.8 L319.8 451.2 L321.3 452.7 L322.8 454.2 L324.3 455.7 L325.8 457.2 L327.3 458.8 L328.8 460.3 L330.3 461.8 L331.8 463.4 L333.3 465.0 L334.8 466.6 L336.3 468.2 L337.8 469.8 L339.3 471.4 L340.8 473.0 L342.3 474.6 L343.8 476.3 L345.3 477.9 L346.8 479.6 L348.3 481.2 L349.8 482.9 L351.3 484.6 L352.8 486.3 L354.3 488.0 L355.8 489.7 L357.3 491.4 L358.8 493.2 L360.3 494.9 L361.8 496.6 L363.3 498.4 L364.8 500.1 L366.3 501.9 L367.8 503.7 L369.3 505.4 L370.8 507.2 L372.3 509.0 L373.8 510.8 L375.3 512.6 L376.8 514.4 L378.3 516.2 L379.8 518.1 L381.3 519.9 L382.8 521.7 L384.3 523.6 L385.8 525.4 L387.3 527.3 L388.8 529.1 L390.3 531.0 L391.8 532.8 L393.3 534.7 L394.8 536.6 L396.3 538.4 L397.8 540.3 L399.3 542.2 L400.8 544.1 L402.3 546.0 L403.8 547.9 L405.3 549.8 L406.8 551.7 L408.3 553.6 L409.8 555.5 L411.3 557.4 L412.8 559.3 L414.3 561.2 L415.8 563.1 L417.3 565.0 L418.8 566.9 L420.3 568.9 L421.8 570.8 L423.3 572.7 L424.8 574.6 L426.3 576.6 L427.8 578.5 L429.3 580.4 L430.8 582.3 L432.3 584.3 L433.8 586.2 L435.3 588.1 L436.8 590.0 L438.3 592.0 L439.8 593.9 L441.3 595.8 L442.8 597.8 L444.3 599.7 L445.8 601.6 L447.3 603.5 L448.8 605.4 L450.3 607.4 L451.8 609.3 L453.3 611.2 L454.8 613.1 L456.3 615.0 L457.8 616.9 L459.3 618.8 L460.8 620.7 L462.3 622.7 L463.8 624.6 L465.3 626.4 L466.8 628.3 L468.3 630.2 L469.8 632.1 L471.3 634.0 L472.8 635.9 L474.3 637.8 L475.8 639.6 L477.3 641.5" stroke="#808080" stroke-width="2.0" stroke-dasharray="4.2 2.2" stroke-linecap="butt"/>
<path d="M84.2 368.8 L85.7 368.8 L87.2 368.8 L88.7 368.8 L90.2 368.8 L91.7 368.9 L93.2 368.9 L94.7 368.9 L96.2 368.9 L97.7 369.0 L99.2 369.0 L100.7 369.1 L102.2 369.1 L103.7 369.2 L105.2 369.3 L106.7 369.3 L108.2 369.4 L109.7 369.5 L111.2 369.6 L112.7 369.7 L114.2 369.8 L115.7 369.9 L117.2 370.0 L118.7 370.2 L120.2 370.3 L121.7 370.4 L123.2 370.6 L124.7 370.7 L126.2 370.9 L127.7 371.0 L129.2 371.2 L130.7 371.4 L132.2 371.6 L133.7 371.8 L135.2 372.0 L136.7 372.2 L138.2 372.4 L139.7 372.6 L141.2 372.9 L142.7 373.1 L144.2 373.4 L145.7 373.6 L147.2 373.9 L148.7 374.1 L150.2 374.4 L151.7 374.7 L153.2 375.0 L154.7 375.3 L156.2 375.6 L157.7 376.0 L159.2 376.3 L160.7 376.6 L162.2 377.0 L163.7 377.3 L165.2 377.7 L166.7 378.1 L168.2 378.4 L169.7 378.8 L171.2 379.2 L172.7 379.6 L174.2 380.1 L175.7 380.5 L177.2 380.9 L178.7 381.4 L180.2 381.8 L181.7 382.3 L183.2 382.8 L184.7 383.3 L186.2 383.8 L187.7 384.3 L189.2 384.8 L190.7 385.3 L192.2 385.8 L193.7 386.4 L195.2 387.0 L196.7 387.5 L198.2 388.1 L199.7 388.7 L201.2 389.3 L202.7 389.9 L204.2 390.5 L205.7 391.1 L207.2 391.8 L208.7 392.4 L210.2 393.1 L211.7 393.8 L213.2 394.5 L214.7 395.1 L216.2 395.9 L217.7 396.6 L219.2 397.3 L220.7 398.0 L222.2 398.8 L223.7 399.6 L225.2 400.3 L226.7 401.1 L228.2 401.9 L229.7 402.7 L231.2 403.6 L232.7 404.4 L234.2 405.2 L235.7 406.1 L237.2 407.0 L238.7 407.9 L240.2 408.8 L241.7 409.7 L243.2 410.6 L244.7 411.5 L246.2 412.5 L247.7 413.4 L249.2 414.4 L250.7 415.4 L252.2 416.4 L253.7 417.4 L255.2 418.4 L256.7 419.5 L258.2 420.5 L259.7 421.6 L261.2 422.7 L262.7 423.8 L264.2 424.9 L265.7 426.0 L267.2 427.1 L268.7 428.3 L270.2 429.4 L271.7 430.6 L273.2 431.8 L274.7 433.0 L276.2 434.2 L277.7 435.4 L279.2 436.7 L280.8 437.9 L282.3 439.2 L283.8 440.5 L285.3 441.8 L286.8 443.1 L288.3 444.4 L289.8 445.7 L291.3 447.1 L292.8 448.4 L294.3 449.8 L295.8 451.2 L297.3 452.6 L298.8 454.0 L300.3 455.4 L301.8 456.8 L303.3 458.2 L304.8 459.7 L306.3 461.1 L307.8 462.6 L309.3 464.1 L310.8 465.6 L312.3 467.1 L313.8 468.6 L315.3 470.1 L316.8 471.6 L318.3 473.1 L319.8 474.7 L321.3 476.2 L322.8 477.8 L324.3 479.4 L325.8 480.9 L327.3 482.5 L328.8 484.1 L330.3 485.7 L331.8 487.3 L333.3 488.9 L334.8 490.5 L336.3 492.2 L337.8 493.8 L339.3 495.5 L340.8 497.1 L342.3 498.8 L343.8 500.4 L345.3 502.1 L346.8 503.8 L348.3 505.5 L349.8 507.1 L351.3 508.8 L352.8 510.5 L354.3 512.2 L355.8 513.9 L357.3 515.7 L358.8 517.4 L360.3 519.1 L361.8 520.8 L363.3 522.6 L364.8 524.3 L366.3 526.0 L367.8 527.8 L369.3 529.5 L370.8 531.3 L372.3 533.0 L373.8 534.8 L375.3 536.5 L376.8 538.3 L378.3 540.0 L379.8 541.8 L381.3 543.5 L382.8 545.3 L384.3 547.1 L385.8 548.8 L387.3 550.6 L388.8 552.3 L390.3 554.1 L391.8 555.8 L393.3 557.6 L394.8 559.3 L396.3 561.1 L397.8 562.8 L399.3 564.5 L400.8 566.3 L402.3 568.0 L403.8 569.7 L405.3 571.5 L406.8 573.2 L408.3 574.9 L409.8 576.6 L411.3 578.3 L412.8 580.0 L414.3 581.6 L415.8 583.3 L417.3 585.0 L418.8 586.6 L420.3 588.3 L421.8 589.9 L423.3 591.6 L424.8 593.2 L426.3 594.8 L427.8 596.4 L429.3 598.0 L430.8 599.6 L432.3 601.2 L433.8 602.7 L435.3 604.3 L436.8 605.8 L438.3 607.3 L439.8 608.9 L441.3 610.4 L442.8 611.8 L444.3 613.3 L445.8 614.8 L447.3 616.2 L448.8 617.7 L450.3 619.1 L451.8 620.5 L453.3 621.9 L454.8 623.2 L456.3 624.6 L457.8 625.9 L459.3 627.2 L460.8 628.5 L462.3 629.8 L463.8 631.1 L465.3 632.3 L466.8 633.6 L468.3 634.8 L469.8 636.0 L471.3 637.1 L472.8 638.3 L474.3 639.4 L475.8 640.5 L477.3 641.6" stroke="#404040" stroke-width="4.5"/>
</g>
<g stroke="#000" stroke-width="1.5"><rect x="72" y="355.2" width="405.8" height="287.5" fill="none" stroke="#000" stroke-width="1.7"/><line x1="72" x2="80" y1="642.70" y2="642.70"/><line x1="477.8" x2="469.8" y1="642.70" y2="642.70"/><line y1="642.7" y2="634.7" x1="72.00" x2="72.00"/><line y1="355.2" y2="363.2" x1="72.00" x2="72.00"/><line x1="72" x2="76.6" y1="615.31" y2="615.31"/><line x1="477.8" x2="473.2" y1="615.31" y2="615.31"/><line y1="642.7" y2="638.1" x1="112.57" x2="112.57"/><line y1="355.2" y2="359.8" x1="112.57" x2="112.57"/><line x1="72" x2="80" y1="587.92" y2="587.92"/><line x1="477.8" x2="469.8" y1="587.92" y2="587.92"/><line y1="642.7" y2="634.7" x1="153.14" x2="153.14"/><line y1="355.2" y2="363.2" x1="153.14" x2="153.14"/><line x1="72" x2="76.6" y1="560.53" y2="560.53"/><line x1="477.8" x2="473.2" y1="560.53" y2="560.53"/><line y1="642.7" y2="638.1" x1="193.71" x2="193.71"/><line y1="355.2" y2="359.8" x1="193.71" x2="193.71"/><line x1="72" x2="80" y1="533.14" y2="533.14"/><line x1="477.8" x2="469.8" y1="533.14" y2="533.14"/><line y1="642.7" y2="634.7" x1="234.28" x2="234.28"/><line y1="355.2" y2="363.2" x1="234.28" x2="234.28"/><line x1="72" x2="76.6" y1="505.75" y2="505.75"/><line x1="477.8" x2="473.2" y1="505.75" y2="505.75"/><line y1="642.7" y2="638.1" x1="274.85" x2="274.85"/><line y1="355.2" y2="359.8" x1="274.85" x2="274.85"/><line x1="72" x2="80" y1="478.36" y2="478.36"/><line x1="477.8" x2="469.8" y1="478.36" y2="478.36"/><line y1="642.7" y2="634.7" x1="315.42" x2="315.42"/><line y1="355.2" y2="363.2" x1="315.42" x2="315.42"/><line x1="72" x2="76.6" y1="450.97" y2="450.97"/><line x1="477.8" x2="473.2" y1="450.97" y2="450.97"/><line y1="642.7" y2="638.1" x1="355.99" x2="355.99"/><line y1="355.2" y2="359.8" x1="355.99" x2="355.99"/><line x1="72" x2="80" y1="423.58" y2="423.58"/><line x1="477.8" x2="469.8" y1="423.58" y2="423.58"/><line y1="642.7" y2="634.7" x1="396.56" x2="396.56"/><line y1="355.2" y2="363.2" x1="396.56" x2="396.56"/><line x1="72" x2="76.6" y1="396.19" y2="396.19"/><line x1="477.8" x2="473.2" y1="396.19" y2="396.19"/><line y1="642.7" y2="638.1" x1="437.13" x2="437.13"/><line y1="355.2" y2="359.8" x1="437.13" x2="437.13"/><line x1="72" x2="80" y1="368.80" y2="368.80"/><line x1="477.8" x2="469.8" y1="368.80" y2="368.80"/><line y1="642.7" y2="634.7" x1="477.70" x2="477.70"/><line y1="355.2" y2="363.2" x1="477.70" x2="477.70"/></g>
<line x1="320.6" y1="389.3" x2="275.9" y2="401.6" stroke="#000" stroke-width="1"/><path d="M265.8 404.4 L275.1 398.7 L276.7 404.5 z" fill="#000"/>
<line x1="327.7" y1="427.8" x2="305.5" y2="444.8" stroke="#000" stroke-width="1"/><path d="M297.2 451.2 L303.7 442.4 L307.4 447.2 z" fill="#000"/>
<line x1="377.6" y1="461.4" x2="334.9" y2="499.8" stroke="#000" stroke-width="1"/><path d="M327.1 506.8 L332.9 497.5 L336.9 502.0 z" fill="#000"/>
<g font-family="'Liberation Sans', sans-serif" fill="#000" opacity="0.999"><text x="64.3" y="295.5" font-size="15.3" text-anchor="end" >0</text><text x="64.3" y="260.7" font-size="15.3" text-anchor="end" >4</text><text x="64.3" y="225.9" font-size="15.3" text-anchor="end" >8</text><text x="64.3" y="191.1" font-size="15.3" text-anchor="end" >12</text><text x="64.3" y="156.3" font-size="15.3" text-anchor="end" >16</text><text x="64.3" y="121.5" font-size="15.3" text-anchor="end" >20</text><text x="64.3" y="86.7" font-size="15.3" text-anchor="end" >24</text><text x="64.3" y="51.9" font-size="15.3" text-anchor="end" >28</text><text x="64.3" y="17.1" font-size="15.3" text-anchor="end" >32</text><text x="73.15" y="311.3" font-size="15.3" text-anchor="middle" >0</text><text x="154.1" y="311.3" font-size="15.3" text-anchor="middle" >5</text><text x="235.05" y="311.3" font-size="15.3" text-anchor="middle" >10</text><text x="316" y="311.3" font-size="15.3" text-anchor="middle" >15</text><text x="396.95" y="311.3" font-size="15.3" text-anchor="middle" >20</text><text x="477.9" y="311.3" font-size="15.3" text-anchor="middle" >25</text><text x="63.9" y="647.2" font-size="15.3" text-anchor="end" >0.0</text><text x="72" y="663.4" font-size="15.3" text-anchor="middle" >0.0</text><text x="63.9" y="592.42" font-size="15.3" text-anchor="end" >0.2</text><text x="153.14" y="663.4" font-size="15.3" text-anchor="middle" >0.2</text><text x="63.9" y="537.64" font-size="15.3" text-anchor="end" >0.4</text><text x="234.28" y="663.4" font-size="15.3" text-anchor="middle" >0.4</text><text x="63.9" y="482.86" font-size="15.3" text-anchor="end" >0.6</text><text x="315.42" y="663.4" font-size="15.3" text-anchor="middle" >0.6</text><text x="63.9" y="428.08" font-size="15.3" text-anchor="end" >0.8</text><text x="396.56" y="663.4" font-size="15.3" text-anchor="middle" >0.8</text><text x="63.9" y="373.3" font-size="15.3" text-anchor="end" >1.0</text><text x="477.7" y="663.4" font-size="15.3" text-anchor="middle" >1.0</text><text x="275" y="337" font-size="24" text-anchor="middle" >T (K)</text><text x="253.4" y="690.6" font-size="24" text-anchor="start" >T/T<tspan font-size="16" dy="9.5">c</tspan></text><text x="178.5" y="45.6" font-size="18.7" text-anchor="start" >batch #2</text><text x="305.3" y="387.8" font-size="18.75" text-anchor="start" >single - gap s-wave</text><text x="321.5" y="426.2" font-size="18.7" text-anchor="start" >batch #2</text><text x="381.5" y="457.8" font-size="18.9" text-anchor="start" >d-wave</text><text x="327.6" y="29.4" font-size="13.5" text-anchor="start" xml:space="preserve">0.038 (λ<tspan font-size="8" dy="5">0</tspan><tspan dy="-5">=0.921 μm)</tspan></text><text x="327.6" y="50.7" font-size="13.5" text-anchor="start" xml:space="preserve">0.038 (λ<tspan font-size="8" dy="5">0</tspan><tspan dy="-5">=0.673 μm)</tspan></text><text x="327.6" y="72.1" font-size="13.5" text-anchor="start" xml:space="preserve">0.074 (λ<tspan font-size="8" dy="5">0</tspan><tspan dy="-5">=0.270 μm)</tspan></text><text x="327.6" y="93.7" font-size="13.5" text-anchor="start" xml:space="preserve">0.074 (λ<tspan font-size="8" dy="5">0</tspan><tspan dy="-5">=0.200 μm)</tspan></text><text x="327.6" y="115" font-size="13.5" text-anchor="start" xml:space="preserve">0.10   (λ<tspan font-size="8" dy="5">0</tspan><tspan dy="-5">=0.182 μm)</tspan></text><text transform="translate(37,182.3) rotate(-90)" font-size="23.8" text-anchor="start"><tspan font-size="22">λ</tspan><tspan font-size="15.8" dy="8" dx="-3">ab</tspan><tspan font-size="15.8" dy="-22.5" dx="-13.5">-2</tspan><tspan dy="14.5" dx="1"> (μm</tspan><tspan font-size="15.8" dy="-13.5">-2</tspan><tspan dy="13.5">)</tspan></text><text transform="translate(28.3,581.3) rotate(-90)" font-size="23.7" text-anchor="start">ρ<tspan font-size="15.5" dy="6">s</tspan><tspan dy="-6" dx="1.5">=</tspan><tspan font-size="22">λ</tspan><tspan font-size="15.5" dy="6">ab</tspan><tspan font-size="15.5" dy="-20" dx="-17">2</tspan><tspan dy="14" dx="6">(0)</tspan><tspan dx="1">/</tspan><tspan font-size="22">λ</tspan><tspan font-size="15.5" dy="6">ab</tspan><tspan font-size="15.5" dy="-20" dx="-17">2</tspan><tspan dy="14" dx="8">(T)</tspan></text></g>
</svg>
</body></html>
